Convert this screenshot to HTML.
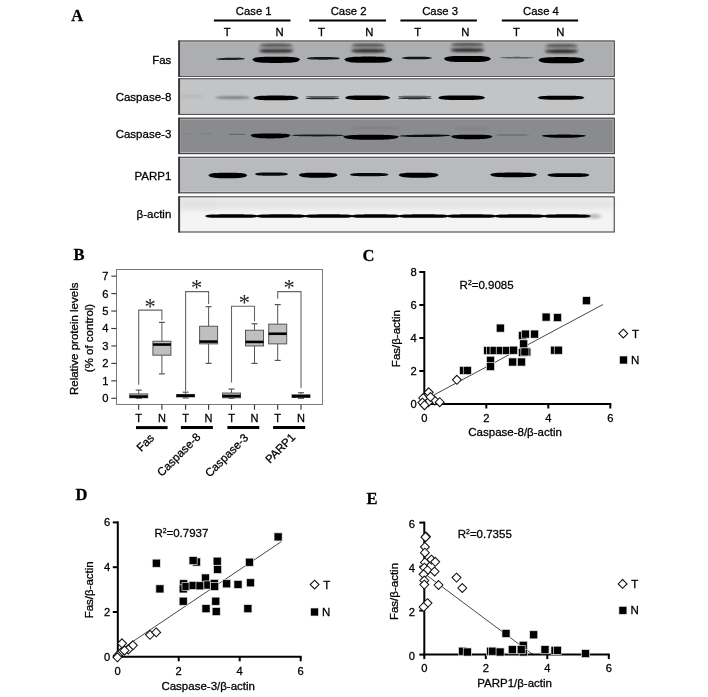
<!DOCTYPE html>
<html><head><meta charset="utf-8"><title>Figure</title>
<style>html,body{margin:0;padding:0;background:#fff;}svg{display:block;}text{stroke:#000;stroke-width:0.28px;}</style></head>
<body><svg width="708" height="697" viewBox="0 0 708 697">
<rect width="708" height="697" fill="#fff"/>
<text x="71.2" y="21.0" font-family="'Liberation Serif', 'Times New Roman', serif" font-size="16.5" text-anchor="start" font-weight="bold" fill="#000" >A</text>
<text x="73.4" y="259.8" font-family="'Liberation Serif', 'Times New Roman', serif" font-size="16.5" text-anchor="start" font-weight="bold" fill="#000" >B</text>
<text x="362.6" y="261.0" font-family="'Liberation Serif', 'Times New Roman', serif" font-size="16.5" text-anchor="start" font-weight="bold" fill="#000" >C</text>
<text x="75.4" y="500.2" font-family="'Liberation Serif', 'Times New Roman', serif" font-size="16.5" text-anchor="start" font-weight="bold" fill="#000" >D</text>
<text x="366.4" y="503.7" font-family="'Liberation Serif', 'Times New Roman', serif" font-size="16.5" text-anchor="start" font-weight="bold" fill="#000" >E</text>
<line x1="213.9" y1="20.5" x2="290.5" y2="20.5" stroke="#000" stroke-width="2"/>
<text x="253.7" y="15.4" font-family="'Liberation Sans', Arial, Helvetica, sans-serif" font-size="11.3" text-anchor="middle" font-weight="normal" fill="#000" >Case 1</text>
<line x1="309.2" y1="20.5" x2="386.0" y2="20.5" stroke="#000" stroke-width="2"/>
<text x="348.6" y="15.4" font-family="'Liberation Sans', Arial, Helvetica, sans-serif" font-size="11.3" text-anchor="middle" font-weight="normal" fill="#000" >Case 2</text>
<line x1="400.4" y1="20.5" x2="476.9" y2="20.5" stroke="#000" stroke-width="2"/>
<text x="440.1" y="15.4" font-family="'Liberation Sans', Arial, Helvetica, sans-serif" font-size="11.3" text-anchor="middle" font-weight="normal" fill="#000" >Case 3</text>
<line x1="501.8" y1="20.5" x2="578.1" y2="20.5" stroke="#000" stroke-width="2"/>
<text x="541.0" y="15.4" font-family="'Liberation Sans', Arial, Helvetica, sans-serif" font-size="11.3" text-anchor="middle" font-weight="normal" fill="#000" >Case 4</text>
<text x="227.3" y="35.7" font-family="'Liberation Sans', Arial, Helvetica, sans-serif" font-size="11.3" text-anchor="middle" font-weight="normal" fill="#000" >T</text>
<text x="279.6" y="35.7" font-family="'Liberation Sans', Arial, Helvetica, sans-serif" font-size="11.3" text-anchor="middle" font-weight="normal" fill="#000" >N</text>
<text x="321.5" y="35.7" font-family="'Liberation Sans', Arial, Helvetica, sans-serif" font-size="11.3" text-anchor="middle" font-weight="normal" fill="#000" >T</text>
<text x="369.4" y="35.7" font-family="'Liberation Sans', Arial, Helvetica, sans-serif" font-size="11.3" text-anchor="middle" font-weight="normal" fill="#000" >N</text>
<text x="417.8" y="35.7" font-family="'Liberation Sans', Arial, Helvetica, sans-serif" font-size="11.3" text-anchor="middle" font-weight="normal" fill="#000" >T</text>
<text x="465.4" y="35.7" font-family="'Liberation Sans', Arial, Helvetica, sans-serif" font-size="11.3" text-anchor="middle" font-weight="normal" fill="#000" >N</text>
<text x="516.5" y="35.7" font-family="'Liberation Sans', Arial, Helvetica, sans-serif" font-size="11.3" text-anchor="middle" font-weight="normal" fill="#000" >T</text>
<text x="560.4" y="35.7" font-family="'Liberation Sans', Arial, Helvetica, sans-serif" font-size="11.3" text-anchor="middle" font-weight="normal" fill="#000" >N</text>
<text x="171.3" y="64.0" font-family="'Liberation Sans', Arial, Helvetica, sans-serif" font-size="11.5" text-anchor="end" font-weight="normal" fill="#000" >Fas</text>
<text x="171.3" y="101.2" font-family="'Liberation Sans', Arial, Helvetica, sans-serif" font-size="11.5" text-anchor="end" font-weight="normal" fill="#000" >Caspase-8</text>
<text x="171.3" y="138.0" font-family="'Liberation Sans', Arial, Helvetica, sans-serif" font-size="11.5" text-anchor="end" font-weight="normal" fill="#000" >Caspase-3</text>
<text x="171.3" y="180.2" font-family="'Liberation Sans', Arial, Helvetica, sans-serif" font-size="11.5" text-anchor="end" font-weight="normal" fill="#000" >PARP1</text>
<text x="171.3" y="218.2" font-family="'Liberation Sans', Arial, Helvetica, sans-serif" font-size="11.5" text-anchor="end" font-weight="normal" fill="#000" >&#946;-actin</text>
<defs><filter id="b04" x="-20%" y="-200%" width="140%" height="500%"><feGaussianBlur stdDeviation="0.45"/></filter><filter id="b05" x="-20%" y="-200%" width="140%" height="500%"><feGaussianBlur stdDeviation="0.5"/></filter><filter id="b07" x="-20%" y="-200%" width="140%" height="500%"><feGaussianBlur stdDeviation="0.7"/></filter><filter id="b08" x="-20%" y="-200%" width="140%" height="500%"><feGaussianBlur stdDeviation="0.55"/></filter><filter id="b10" x="-20%" y="-200%" width="140%" height="500%"><feGaussianBlur stdDeviation="1.0"/></filter><filter id="b15" x="-20%" y="-200%" width="140%" height="500%"><feGaussianBlur stdDeviation="1.5"/></filter><filter id="b25" x="-20%" y="-200%" width="140%" height="500%"><feGaussianBlur stdDeviation="2.5"/></filter></defs>
<rect x="178.3" y="40.5" width="436.49999999999994" height="36.3" fill="#adaeb1"/>
<rect x="178.3" y="78.3" width="436.49999999999994" height="36.5" fill="#c3c4c6"/>
<rect x="178.3" y="117.7" width="436.49999999999994" height="36.39999999999999" fill="#8a8b8f"/>
<rect x="178.3" y="156.8" width="436.49999999999994" height="36.5" fill="#b9babd"/>
<rect x="178.3" y="196.3" width="436.49999999999994" height="36.19999999999999" fill="#f4f4f4"/>
<path d="M216.00,59.10 L217.22,58.58 L218.43,58.38 L219.65,58.24 L220.87,58.13 L222.08,58.04 L223.30,57.96 L224.52,57.91 L225.73,57.86 L226.95,57.82 L228.17,57.79 L229.38,57.77 L230.60,57.75 L231.82,57.73 L233.03,57.72 L234.25,57.72 L235.47,57.73 L236.68,57.74 L237.90,57.76 L239.12,57.80 L240.33,57.86 L241.55,57.94 L242.77,58.05 L243.98,58.22 L245.20,58.70 L245.20,58.70 L243.98,59.22 L242.77,59.42 L241.55,59.56 L240.33,59.67 L239.12,59.76 L237.90,59.84 L236.68,59.89 L235.47,59.94 L234.25,59.98 L233.03,60.01 L231.82,60.03 L230.60,60.05 L229.38,60.07 L228.17,60.08 L226.95,60.08 L225.73,60.07 L224.52,60.06 L223.30,60.04 L222.08,60.00 L220.87,59.94 L219.65,59.86 L218.43,59.75 L217.22,59.58 L216.00,59.10Z" fill="#151515" opacity="0.92" filter="url(#b07)"/>
<path d="M306.60,58.30 L308.00,57.69 L309.40,57.47 L310.80,57.32 L312.20,57.21 L313.60,57.13 L315.00,57.07 L316.40,57.02 L317.80,56.99 L319.20,56.97 L320.60,56.96 L322.00,56.95 L323.40,56.95 L324.80,56.95 L326.20,56.96 L327.60,56.97 L329.00,56.99 L330.40,57.02 L331.80,57.07 L333.20,57.13 L334.60,57.21 L336.00,57.32 L337.40,57.47 L338.80,57.69 L340.20,58.30 L340.20,58.30 L338.80,58.91 L337.40,59.13 L336.00,59.28 L334.60,59.39 L333.20,59.47 L331.80,59.53 L330.40,59.58 L329.00,59.61 L327.60,59.63 L326.20,59.64 L324.80,59.65 L323.40,59.65 L322.00,59.65 L320.60,59.64 L319.20,59.63 L317.80,59.61 L316.40,59.58 L315.00,59.53 L313.60,59.47 L312.20,59.39 L310.80,59.28 L309.40,59.13 L308.00,58.91 L306.60,58.30Z" fill="#111" opacity="0.95" filter="url(#b07)"/>
<path d="M401.40,58.00 L402.68,57.39 L403.97,57.17 L405.25,57.02 L406.53,56.91 L407.82,56.83 L409.10,56.77 L410.38,56.72 L411.67,56.69 L412.95,56.67 L414.23,56.66 L415.52,56.65 L416.80,56.65 L418.08,56.65 L419.37,56.66 L420.65,56.67 L421.93,56.69 L423.22,56.72 L424.50,56.77 L425.78,56.83 L427.07,56.91 L428.35,57.02 L429.63,57.17 L430.92,57.39 L432.20,58.00 L432.20,58.00 L430.92,58.61 L429.63,58.83 L428.35,58.98 L427.07,59.09 L425.78,59.17 L424.50,59.23 L423.22,59.28 L421.93,59.31 L420.65,59.33 L419.37,59.34 L418.08,59.35 L416.80,59.35 L415.52,59.35 L414.23,59.34 L412.95,59.33 L411.67,59.31 L410.38,59.28 L409.10,59.23 L407.82,59.17 L406.53,59.09 L405.25,58.98 L403.97,58.83 L402.68,58.61 L401.40,58.00Z" fill="#111" opacity="0.95" filter="url(#b07)"/>
<path d="M500.00,57.70 L501.42,57.36 L502.83,57.23 L504.25,57.14 L505.67,57.07 L507.08,57.01 L508.50,56.96 L509.92,56.93 L511.33,56.90 L512.75,56.88 L514.17,56.86 L515.58,56.85 L517.00,56.85 L518.42,56.85 L519.83,56.86 L521.25,56.88 L522.67,56.90 L524.08,56.93 L525.50,56.96 L526.92,57.01 L528.33,57.07 L529.75,57.14 L531.17,57.23 L532.58,57.36 L534.00,57.70 L534.00,57.70 L532.58,58.04 L531.17,58.17 L529.75,58.26 L528.33,58.33 L526.92,58.39 L525.50,58.44 L524.08,58.47 L522.67,58.50 L521.25,58.52 L519.83,58.54 L518.42,58.55 L517.00,58.55 L515.58,58.55 L514.17,58.54 L512.75,58.52 L511.33,58.50 L509.92,58.47 L508.50,58.44 L507.08,58.39 L505.67,58.33 L504.25,58.26 L502.83,58.17 L501.42,58.04 L500.00,57.70Z" fill="#333" opacity="0.65" filter="url(#b07)"/>
<path d="M258.20,48.10 L259.70,45.70 L261.20,44.85 L262.70,44.30 L264.20,43.91 L265.70,43.62 L267.20,43.42 L268.70,43.28 L270.20,43.19 L271.70,43.14 L273.20,43.11 L274.70,43.10 L276.20,43.10 L277.70,43.10 L279.20,43.11 L280.70,43.14 L282.20,43.19 L283.70,43.28 L285.20,43.42 L286.70,43.62 L288.20,43.91 L289.70,44.30 L291.20,44.85 L292.70,45.70 L294.20,48.10 L294.20,48.10 L292.70,50.50 L291.20,51.35 L289.70,51.90 L288.20,52.29 L286.70,52.58 L285.20,52.78 L283.70,52.92 L282.20,53.01 L280.70,53.06 L279.20,53.09 L277.70,53.10 L276.20,53.10 L274.70,53.10 L273.20,53.09 L271.70,53.06 L270.20,53.01 L268.70,52.92 L267.20,52.78 L265.70,52.58 L264.20,52.29 L262.70,51.90 L261.20,51.35 L259.70,50.50 L258.20,48.10Z" fill="#555" opacity="0.22" filter="url(#b15)"/>
<path d="M258.92,51.00 L260.36,50.23 L261.80,49.96 L263.24,49.78 L264.68,49.66 L266.12,49.57 L267.56,49.50 L269.00,49.46 L270.44,49.43 L271.88,49.41 L273.32,49.40 L274.76,49.40 L276.20,49.40 L277.64,49.40 L279.08,49.40 L280.52,49.41 L281.96,49.43 L283.40,49.46 L284.84,49.50 L286.28,49.57 L287.72,49.66 L289.16,49.78 L290.60,49.96 L292.04,50.23 L293.48,51.00 L293.48,51.00 L292.04,51.77 L290.60,52.04 L289.16,52.22 L287.72,52.34 L286.28,52.43 L284.84,52.50 L283.40,52.54 L281.96,52.57 L280.52,52.59 L279.08,52.60 L277.64,52.60 L276.20,52.60 L274.76,52.60 L273.32,52.60 L271.88,52.59 L270.44,52.57 L269.00,52.54 L267.56,52.50 L266.12,52.43 L264.68,52.34 L263.24,52.22 L261.80,52.04 L260.36,51.77 L258.92,51.00Z" fill="#111" opacity="0.85" filter="url(#b10)"/>
<path d="M259.88,45.30 L261.24,44.58 L262.60,44.33 L263.96,44.16 L265.32,44.04 L266.68,43.96 L268.04,43.90 L269.40,43.86 L270.76,43.83 L272.12,43.81 L273.48,43.80 L274.84,43.80 L276.20,43.80 L277.56,43.80 L278.92,43.80 L280.28,43.81 L281.64,43.83 L283.00,43.86 L284.36,43.90 L285.72,43.96 L287.08,44.04 L288.44,44.16 L289.80,44.33 L291.16,44.58 L292.52,45.30 L292.52,45.30 L291.16,46.02 L289.80,46.27 L288.44,46.44 L287.08,46.56 L285.72,46.64 L284.36,46.70 L283.00,46.74 L281.64,46.77 L280.28,46.79 L278.92,46.80 L277.56,46.80 L276.20,46.80 L274.84,46.80 L273.48,46.80 L272.12,46.79 L270.76,46.77 L269.40,46.74 L268.04,46.70 L266.68,46.64 L265.32,46.56 L263.96,46.44 L262.60,46.27 L261.24,46.02 L259.88,45.30Z" fill="#2a2a2a" opacity="0.62" filter="url(#b10)"/>
<path d="M252.20,59.60 L254.20,58.10 L256.20,57.59 L258.20,57.27 L260.20,57.06 L262.20,56.92 L264.20,56.82 L266.20,56.76 L268.20,56.73 L270.20,56.71 L272.20,56.70 L274.20,56.70 L276.20,56.70 L278.20,56.70 L280.20,56.70 L282.20,56.71 L284.20,56.73 L286.20,56.76 L288.20,56.82 L290.20,56.92 L292.20,57.06 L294.20,57.27 L296.20,57.59 L298.20,58.10 L300.20,59.60 L300.20,59.60 L298.20,61.31 L296.20,61.89 L294.20,62.25 L292.20,62.49 L290.20,62.65 L288.20,62.76 L286.20,62.83 L284.20,62.87 L282.20,62.89 L280.20,62.90 L278.20,62.90 L276.20,62.90 L274.20,62.90 L272.20,62.90 L270.20,62.89 L268.20,62.87 L266.20,62.83 L264.20,62.76 L262.20,62.65 L260.20,62.49 L258.20,62.25 L256.20,61.89 L254.20,61.31 L252.20,59.60Z" fill="#000" opacity="1.0" filter="url(#b05)"/>
<path d="M350.25,48.00 L351.76,45.60 L353.27,44.75 L354.79,44.20 L356.30,43.81 L357.81,43.52 L359.32,43.32 L360.84,43.18 L362.35,43.09 L363.86,43.04 L365.38,43.01 L366.89,43.00 L368.40,43.00 L369.91,43.00 L371.42,43.01 L372.94,43.04 L374.45,43.09 L375.96,43.18 L377.47,43.32 L378.99,43.52 L380.50,43.81 L382.01,44.20 L383.52,44.75 L385.04,45.60 L386.55,48.00 L386.55,48.00 L385.04,50.40 L383.52,51.25 L382.01,51.80 L380.50,52.19 L378.99,52.48 L377.47,52.68 L375.96,52.82 L374.45,52.91 L372.94,52.96 L371.42,52.99 L369.91,53.00 L368.40,53.00 L366.89,53.00 L365.38,52.99 L363.86,52.96 L362.35,52.91 L360.84,52.82 L359.32,52.68 L357.81,52.48 L356.30,52.19 L354.79,51.80 L353.27,51.25 L351.76,50.40 L350.25,48.00Z" fill="#555" opacity="0.22" filter="url(#b15)"/>
<path d="M350.98,50.90 L352.43,50.13 L353.88,49.86 L355.33,49.68 L356.78,49.56 L358.24,49.47 L359.69,49.40 L361.14,49.36 L362.59,49.33 L364.04,49.31 L365.50,49.30 L366.95,49.30 L368.40,49.30 L369.85,49.30 L371.30,49.30 L372.76,49.31 L374.21,49.33 L375.66,49.36 L377.11,49.40 L378.56,49.47 L380.02,49.56 L381.47,49.68 L382.92,49.86 L384.37,50.13 L385.82,50.90 L385.82,50.90 L384.37,51.67 L382.92,51.94 L381.47,52.12 L380.02,52.24 L378.56,52.33 L377.11,52.40 L375.66,52.44 L374.21,52.47 L372.76,52.49 L371.30,52.50 L369.85,52.50 L368.40,52.50 L366.95,52.50 L365.50,52.50 L364.04,52.49 L362.59,52.47 L361.14,52.44 L359.69,52.40 L358.24,52.33 L356.78,52.24 L355.33,52.12 L353.88,51.94 L352.43,51.67 L350.98,50.90Z" fill="#111" opacity="0.85" filter="url(#b10)"/>
<path d="M351.94,45.20 L353.32,44.48 L354.69,44.23 L356.06,44.06 L357.43,43.94 L358.80,43.86 L360.17,43.80 L361.54,43.76 L362.91,43.73 L364.29,43.71 L365.66,43.70 L367.03,43.70 L368.40,43.70 L369.77,43.70 L371.14,43.70 L372.51,43.71 L373.89,43.73 L375.26,43.76 L376.63,43.80 L378.00,43.86 L379.37,43.94 L380.74,44.06 L382.11,44.23 L383.48,44.48 L384.86,45.20 L384.86,45.20 L383.48,45.92 L382.11,46.17 L380.74,46.34 L379.37,46.46 L378.00,46.54 L376.63,46.60 L375.26,46.64 L373.89,46.67 L372.51,46.69 L371.14,46.70 L369.77,46.70 L368.40,46.70 L367.03,46.70 L365.66,46.70 L364.29,46.69 L362.91,46.67 L361.54,46.64 L360.17,46.60 L358.80,46.54 L357.43,46.46 L356.06,46.34 L354.69,46.17 L353.32,45.92 L351.94,45.20Z" fill="#2a2a2a" opacity="0.62" filter="url(#b10)"/>
<path d="M344.20,59.50 L346.22,58.00 L348.23,57.49 L350.25,57.17 L352.27,56.96 L354.28,56.82 L356.30,56.72 L358.32,56.66 L360.33,56.63 L362.35,56.61 L364.37,56.60 L366.38,56.60 L368.40,56.60 L370.42,56.60 L372.43,56.60 L374.45,56.61 L376.47,56.63 L378.48,56.66 L380.50,56.72 L382.52,56.82 L384.53,56.96 L386.55,57.17 L388.57,57.49 L390.58,58.00 L392.60,59.50 L392.60,59.50 L390.58,61.21 L388.57,61.79 L386.55,62.15 L384.53,62.39 L382.52,62.55 L380.50,62.66 L378.48,62.73 L376.47,62.77 L374.45,62.79 L372.43,62.80 L370.42,62.80 L368.40,62.80 L366.38,62.80 L364.37,62.80 L362.35,62.79 L360.33,62.77 L358.32,62.73 L356.30,62.66 L354.28,62.55 L352.27,62.39 L350.25,62.15 L348.23,61.79 L346.22,61.21 L344.20,59.50Z" fill="#000" opacity="1.0" filter="url(#b05)"/>
<path d="M449.70,47.30 L451.17,44.90 L452.65,44.05 L454.12,43.50 L455.60,43.11 L457.07,42.82 L458.55,42.62 L460.02,42.48 L461.50,42.39 L462.97,42.34 L464.45,42.31 L465.92,42.30 L467.40,42.30 L468.88,42.30 L470.35,42.31 L471.82,42.34 L473.30,42.39 L474.77,42.48 L476.25,42.62 L477.72,42.82 L479.20,43.11 L480.67,43.50 L482.15,44.05 L483.62,44.90 L485.10,47.30 L485.10,47.30 L483.62,49.70 L482.15,50.55 L480.67,51.10 L479.20,51.49 L477.72,51.78 L476.25,51.98 L474.77,52.12 L473.30,52.21 L471.82,52.26 L470.35,52.29 L468.88,52.30 L467.40,52.30 L465.92,52.30 L464.45,52.29 L462.97,52.26 L461.50,52.21 L460.02,52.12 L458.55,51.98 L457.07,51.78 L455.60,51.49 L454.12,51.10 L452.65,50.55 L451.17,49.70 L449.70,47.30Z" fill="#555" opacity="0.22" filter="url(#b15)"/>
<path d="M450.41,50.20 L451.82,49.43 L453.24,49.16 L454.66,48.98 L456.07,48.86 L457.49,48.77 L458.90,48.70 L460.32,48.66 L461.74,48.63 L463.15,48.61 L464.57,48.60 L465.98,48.60 L467.40,48.60 L468.82,48.60 L470.23,48.60 L471.65,48.61 L473.06,48.63 L474.48,48.66 L475.90,48.70 L477.31,48.77 L478.73,48.86 L480.14,48.98 L481.56,49.16 L482.98,49.43 L484.39,50.20 L484.39,50.20 L482.98,50.97 L481.56,51.24 L480.14,51.42 L478.73,51.54 L477.31,51.63 L475.90,51.70 L474.48,51.74 L473.06,51.77 L471.65,51.79 L470.23,51.80 L468.82,51.80 L467.40,51.80 L465.98,51.80 L464.57,51.80 L463.15,51.79 L461.74,51.77 L460.32,51.74 L458.90,51.70 L457.49,51.63 L456.07,51.54 L454.66,51.42 L453.24,51.24 L451.82,50.97 L450.41,50.20Z" fill="#111" opacity="0.85" filter="url(#b10)"/>
<path d="M451.35,44.50 L452.69,43.78 L454.03,43.53 L455.36,43.36 L456.70,43.24 L458.04,43.16 L459.38,43.10 L460.71,43.06 L462.05,43.03 L463.39,43.01 L464.73,43.00 L466.06,43.00 L467.40,43.00 L468.74,43.00 L470.07,43.00 L471.41,43.01 L472.75,43.03 L474.09,43.06 L475.42,43.10 L476.76,43.16 L478.10,43.24 L479.44,43.36 L480.77,43.53 L482.11,43.78 L483.45,44.50 L483.45,44.50 L482.11,45.22 L480.77,45.47 L479.44,45.64 L478.10,45.76 L476.76,45.84 L475.42,45.90 L474.09,45.94 L472.75,45.97 L471.41,45.99 L470.07,46.00 L468.74,46.00 L467.40,46.00 L466.06,46.00 L464.73,46.00 L463.39,45.99 L462.05,45.97 L460.71,45.94 L459.38,45.90 L458.04,45.84 L456.70,45.76 L455.36,45.64 L454.03,45.47 L452.69,45.22 L451.35,44.50Z" fill="#2a2a2a" opacity="0.62" filter="url(#b10)"/>
<path d="M443.80,58.80 L445.77,57.30 L447.73,56.79 L449.70,56.47 L451.67,56.26 L453.63,56.12 L455.60,56.02 L457.57,55.96 L459.53,55.93 L461.50,55.91 L463.47,55.90 L465.43,55.90 L467.40,55.90 L469.37,55.90 L471.33,55.90 L473.30,55.91 L475.27,55.93 L477.23,55.96 L479.20,56.02 L481.17,56.12 L483.13,56.26 L485.10,56.47 L487.07,56.79 L489.03,57.30 L491.00,58.80 L491.00,58.80 L489.03,60.51 L487.07,61.09 L485.10,61.45 L483.13,61.69 L481.17,61.85 L479.20,61.96 L477.23,62.03 L475.27,62.07 L473.30,62.09 L471.33,62.10 L469.37,62.10 L467.40,62.10 L465.43,62.10 L463.47,62.10 L461.50,62.09 L459.53,62.07 L457.57,62.03 L455.60,61.96 L453.63,61.85 L451.67,61.69 L449.70,61.45 L447.73,61.09 L445.77,60.51 L443.80,58.80Z" fill="#000" opacity="1.0" filter="url(#b05)"/>
<path d="M544.10,48.50 L545.55,46.10 L547.00,45.25 L548.45,44.70 L549.90,44.31 L551.35,44.02 L552.80,43.82 L554.25,43.68 L555.70,43.59 L557.15,43.54 L558.60,43.51 L560.05,43.50 L561.50,43.50 L562.95,43.50 L564.40,43.51 L565.85,43.54 L567.30,43.59 L568.75,43.68 L570.20,43.82 L571.65,44.02 L573.10,44.31 L574.55,44.70 L576.00,45.25 L577.45,46.10 L578.90,48.50 L578.90,48.50 L577.45,50.90 L576.00,51.75 L574.55,52.30 L573.10,52.69 L571.65,52.98 L570.20,53.18 L568.75,53.32 L567.30,53.41 L565.85,53.46 L564.40,53.49 L562.95,53.50 L561.50,53.50 L560.05,53.50 L558.60,53.49 L557.15,53.46 L555.70,53.41 L554.25,53.32 L552.80,53.18 L551.35,52.98 L549.90,52.69 L548.45,52.30 L547.00,51.75 L545.55,50.90 L544.10,48.50Z" fill="#555" opacity="0.22" filter="url(#b15)"/>
<path d="M544.80,51.40 L546.19,50.63 L547.58,50.36 L548.97,50.18 L550.36,50.06 L551.76,49.97 L553.15,49.90 L554.54,49.86 L555.93,49.83 L557.32,49.81 L558.72,49.80 L560.11,49.80 L561.50,49.80 L562.89,49.80 L564.28,49.80 L565.68,49.81 L567.07,49.83 L568.46,49.86 L569.85,49.90 L571.24,49.97 L572.64,50.06 L574.03,50.18 L575.42,50.36 L576.81,50.63 L578.20,51.40 L578.20,51.40 L576.81,52.17 L575.42,52.44 L574.03,52.62 L572.64,52.74 L571.24,52.83 L569.85,52.90 L568.46,52.94 L567.07,52.97 L565.68,52.99 L564.28,53.00 L562.89,53.00 L561.50,53.00 L560.11,53.00 L558.72,53.00 L557.32,52.99 L555.93,52.97 L554.54,52.94 L553.15,52.90 L551.76,52.83 L550.36,52.74 L548.97,52.62 L547.58,52.44 L546.19,52.17 L544.80,51.40Z" fill="#111" opacity="0.85" filter="url(#b10)"/>
<path d="M545.72,45.70 L547.04,44.98 L548.35,44.73 L549.67,44.56 L550.98,44.44 L552.30,44.36 L553.61,44.30 L554.93,44.26 L556.24,44.23 L557.56,44.21 L558.87,44.20 L560.19,44.20 L561.50,44.20 L562.81,44.20 L564.13,44.20 L565.44,44.21 L566.76,44.23 L568.07,44.26 L569.39,44.30 L570.70,44.36 L572.02,44.44 L573.33,44.56 L574.65,44.73 L575.96,44.98 L577.28,45.70 L577.28,45.70 L575.96,46.42 L574.65,46.67 L573.33,46.84 L572.02,46.96 L570.70,47.04 L569.39,47.10 L568.07,47.14 L566.76,47.17 L565.44,47.19 L564.13,47.20 L562.81,47.20 L561.50,47.20 L560.19,47.20 L558.87,47.20 L557.56,47.19 L556.24,47.17 L554.93,47.14 L553.61,47.10 L552.30,47.04 L550.98,46.96 L549.67,46.84 L548.35,46.67 L547.04,46.42 L545.72,45.70Z" fill="#2a2a2a" opacity="0.62" filter="url(#b10)"/>
<path d="M538.30,60.00 L540.23,58.50 L542.17,57.99 L544.10,57.67 L546.03,57.46 L547.97,57.32 L549.90,57.22 L551.83,57.16 L553.77,57.13 L555.70,57.11 L557.63,57.10 L559.57,57.10 L561.50,57.10 L563.43,57.10 L565.37,57.10 L567.30,57.11 L569.23,57.13 L571.17,57.16 L573.10,57.22 L575.03,57.32 L576.97,57.46 L578.90,57.67 L580.83,57.99 L582.77,58.50 L584.70,60.00 L584.70,60.00 L582.77,61.71 L580.83,62.29 L578.90,62.65 L576.97,62.89 L575.03,63.05 L573.10,63.16 L571.17,63.23 L569.23,63.27 L567.30,63.29 L565.37,63.30 L563.43,63.30 L561.50,63.30 L559.57,63.30 L557.63,63.30 L555.70,63.29 L553.77,63.27 L551.83,63.23 L549.90,63.16 L547.97,63.05 L546.03,62.89 L544.10,62.65 L542.17,62.29 L540.23,61.71 L538.30,60.00Z" fill="#000" opacity="1.0" filter="url(#b05)"/>
<path d="M215.50,97.60 L216.96,97.11 L218.42,96.93 L219.88,96.81 L221.33,96.72 L222.79,96.65 L224.25,96.60 L225.71,96.56 L227.17,96.54 L228.62,96.52 L230.08,96.51 L231.54,96.50 L233.00,96.50 L234.46,96.50 L235.92,96.51 L237.38,96.52 L238.83,96.54 L240.29,96.56 L241.75,96.60 L243.21,96.65 L244.67,96.72 L246.12,96.81 L247.58,96.93 L249.04,97.11 L250.50,97.60 L250.50,97.60 L249.04,98.09 L247.58,98.27 L246.12,98.39 L244.67,98.48 L243.21,98.55 L241.75,98.60 L240.29,98.64 L238.83,98.66 L237.38,98.68 L235.92,98.69 L234.46,98.70 L233.00,98.70 L231.54,98.70 L230.08,98.69 L228.62,98.68 L227.17,98.66 L225.71,98.64 L224.25,98.60 L222.79,98.55 L221.33,98.48 L219.88,98.39 L218.42,98.27 L216.96,98.09 L215.50,97.60Z" fill="#333" opacity="0.6" filter="url(#b10)"/>
<path d="M180.00,96.40 L181.00,95.97 L182.00,95.82 L183.00,95.74 L184.00,95.68 L185.00,95.65 L186.00,95.63 L187.00,95.61 L188.00,95.60 L189.00,95.60 L190.00,95.60 L191.00,95.60 L192.00,95.60 L193.00,95.60 L194.00,95.60 L195.00,95.60 L196.00,95.60 L197.00,95.61 L198.00,95.63 L199.00,95.65 L200.00,95.68 L201.00,95.74 L202.00,95.82 L203.00,95.97 L204.00,96.40 L204.00,96.40 L203.00,96.83 L202.00,96.98 L201.00,97.06 L200.00,97.12 L199.00,97.15 L198.00,97.17 L197.00,97.19 L196.00,97.20 L195.00,97.20 L194.00,97.20 L193.00,97.20 L192.00,97.20 L191.00,97.20 L190.00,97.20 L189.00,97.20 L188.00,97.20 L187.00,97.19 L186.00,97.17 L185.00,97.15 L184.00,97.12 L183.00,97.06 L182.00,96.98 L181.00,96.83 L180.00,96.40Z" fill="#777" opacity="0.25" filter="url(#b10)"/>
<path d="M253.20,97.90 L255.10,96.65 L257.00,96.25 L258.90,96.00 L260.80,95.84 L262.70,95.74 L264.60,95.67 L266.50,95.63 L268.40,95.61 L270.30,95.60 L272.20,95.60 L274.10,95.60 L276.00,95.60 L277.90,95.60 L279.80,95.60 L281.70,95.60 L283.60,95.61 L285.50,95.63 L287.40,95.67 L289.30,95.74 L291.20,95.84 L293.10,96.00 L295.00,96.25 L296.90,96.65 L298.80,97.90 L298.80,97.90 L296.90,99.15 L295.00,99.55 L293.10,99.80 L291.20,99.96 L289.30,100.06 L287.40,100.13 L285.50,100.17 L283.60,100.19 L281.70,100.20 L279.80,100.20 L277.90,100.20 L276.00,100.20 L274.10,100.20 L272.20,100.20 L270.30,100.20 L268.40,100.19 L266.50,100.17 L264.60,100.13 L262.70,100.06 L260.80,99.96 L258.90,99.80 L257.00,99.55 L255.10,99.15 L253.20,97.90Z" fill="#000" opacity="1.0" filter="url(#b04)"/>
<path d="M305.00,96.70 L306.46,96.32 L307.92,96.18 L309.38,96.09 L310.83,96.03 L312.29,95.98 L313.75,95.95 L315.21,95.93 L316.67,95.91 L318.12,95.91 L319.58,95.90 L321.04,95.90 L322.50,95.90 L323.96,95.90 L325.42,95.90 L326.88,95.91 L328.33,95.91 L329.79,95.93 L331.25,95.95 L332.71,95.98 L334.17,96.03 L335.62,96.09 L337.08,96.18 L338.54,96.32 L340.00,96.70 L340.00,96.70 L338.54,97.08 L337.08,97.22 L335.62,97.31 L334.17,97.37 L332.71,97.42 L331.25,97.45 L329.79,97.47 L328.33,97.49 L326.88,97.49 L325.42,97.50 L323.96,97.50 L322.50,97.50 L321.04,97.50 L319.58,97.50 L318.12,97.49 L316.67,97.49 L315.21,97.47 L313.75,97.45 L312.29,97.42 L310.83,97.37 L309.38,97.31 L307.92,97.22 L306.46,97.08 L305.00,96.70Z" fill="#333" opacity="0.65" filter="url(#b07)"/>
<path d="M305.00,98.40 L306.46,97.94 L307.92,97.78 L309.38,97.68 L310.83,97.60 L312.29,97.55 L313.75,97.51 L315.21,97.49 L316.67,97.47 L318.12,97.46 L319.58,97.45 L321.04,97.45 L322.50,97.45 L323.96,97.45 L325.42,97.45 L326.88,97.46 L328.33,97.47 L329.79,97.49 L331.25,97.51 L332.71,97.55 L334.17,97.60 L335.62,97.68 L337.08,97.78 L338.54,97.94 L340.00,98.40 L340.00,98.40 L338.54,98.86 L337.08,99.02 L335.62,99.12 L334.17,99.20 L332.71,99.25 L331.25,99.29 L329.79,99.31 L328.33,99.33 L326.88,99.34 L325.42,99.35 L323.96,99.35 L322.50,99.35 L321.04,99.35 L319.58,99.35 L318.12,99.34 L316.67,99.33 L315.21,99.31 L313.75,99.29 L312.29,99.25 L310.83,99.20 L309.38,99.12 L307.92,99.02 L306.46,98.86 L305.00,98.40Z" fill="#111" opacity="0.85" filter="url(#b07)"/>
<path d="M344.90,97.70 L346.79,96.45 L348.68,96.05 L350.58,95.80 L352.47,95.64 L354.36,95.54 L356.25,95.47 L358.14,95.43 L360.03,95.41 L361.93,95.40 L363.82,95.40 L365.71,95.40 L367.60,95.40 L369.49,95.40 L371.38,95.40 L373.28,95.40 L375.17,95.41 L377.06,95.43 L378.95,95.47 L380.84,95.54 L382.73,95.64 L384.62,95.80 L386.52,96.05 L388.41,96.45 L390.30,97.70 L390.30,97.70 L388.41,98.95 L386.52,99.35 L384.62,99.60 L382.73,99.76 L380.84,99.86 L378.95,99.93 L377.06,99.97 L375.17,99.99 L373.28,100.00 L371.38,100.00 L369.49,100.00 L367.60,100.00 L365.71,100.00 L363.82,100.00 L361.93,100.00 L360.03,99.99 L358.14,99.97 L356.25,99.93 L354.36,99.86 L352.47,99.76 L350.58,99.60 L348.68,99.35 L346.79,98.95 L344.90,97.70Z" fill="#000" opacity="1.0" filter="url(#b04)"/>
<path d="M397.80,96.50 L399.22,96.12 L400.63,95.98 L402.05,95.89 L403.47,95.83 L404.88,95.78 L406.30,95.75 L407.72,95.73 L409.13,95.71 L410.55,95.71 L411.97,95.70 L413.38,95.70 L414.80,95.70 L416.22,95.70 L417.63,95.70 L419.05,95.71 L420.47,95.71 L421.88,95.73 L423.30,95.75 L424.72,95.78 L426.13,95.83 L427.55,95.89 L428.97,95.98 L430.38,96.12 L431.80,96.50 L431.80,96.50 L430.38,96.88 L428.97,97.02 L427.55,97.11 L426.13,97.17 L424.72,97.22 L423.30,97.25 L421.88,97.27 L420.47,97.29 L419.05,97.29 L417.63,97.30 L416.22,97.30 L414.80,97.30 L413.38,97.30 L411.97,97.30 L410.55,97.29 L409.13,97.29 L407.72,97.27 L406.30,97.25 L404.88,97.22 L403.47,97.17 L402.05,97.11 L400.63,97.02 L399.22,96.88 L397.80,96.50Z" fill="#333" opacity="0.65" filter="url(#b07)"/>
<path d="M397.80,98.20 L399.22,97.74 L400.63,97.58 L402.05,97.48 L403.47,97.40 L404.88,97.35 L406.30,97.31 L407.72,97.29 L409.13,97.27 L410.55,97.26 L411.97,97.25 L413.38,97.25 L414.80,97.25 L416.22,97.25 L417.63,97.25 L419.05,97.26 L420.47,97.27 L421.88,97.29 L423.30,97.31 L424.72,97.35 L426.13,97.40 L427.55,97.48 L428.97,97.58 L430.38,97.74 L431.80,98.20 L431.80,98.20 L430.38,98.66 L428.97,98.82 L427.55,98.92 L426.13,99.00 L424.72,99.05 L423.30,99.09 L421.88,99.11 L420.47,99.13 L419.05,99.14 L417.63,99.15 L416.22,99.15 L414.80,99.15 L413.38,99.15 L411.97,99.15 L410.55,99.14 L409.13,99.13 L407.72,99.11 L406.30,99.09 L404.88,99.05 L403.47,99.00 L402.05,98.92 L400.63,98.82 L399.22,98.66 L397.80,98.20Z" fill="#111" opacity="0.85" filter="url(#b07)"/>
<path d="M438.00,97.70 L439.97,96.45 L441.93,96.05 L443.90,95.80 L445.87,95.64 L447.83,95.54 L449.80,95.47 L451.77,95.43 L453.73,95.41 L455.70,95.40 L457.67,95.40 L459.63,95.40 L461.60,95.40 L463.57,95.40 L465.53,95.40 L467.50,95.40 L469.47,95.41 L471.43,95.43 L473.40,95.47 L475.37,95.54 L477.33,95.64 L479.30,95.80 L481.27,96.05 L483.23,96.45 L485.20,97.70 L485.20,97.70 L483.23,98.95 L481.27,99.35 L479.30,99.60 L477.33,99.76 L475.37,99.86 L473.40,99.93 L471.43,99.97 L469.47,99.99 L467.50,100.00 L465.53,100.00 L463.57,100.00 L461.60,100.00 L459.63,100.00 L457.67,100.00 L455.70,100.00 L453.73,99.99 L451.77,99.97 L449.80,99.93 L447.83,99.86 L445.87,99.76 L443.90,99.60 L441.93,99.35 L439.97,98.95 L438.00,97.70Z" fill="#000" opacity="1.0" filter="url(#b04)"/>
<path d="M537.50,97.70 L539.46,96.62 L541.42,96.26 L543.38,96.05 L545.33,95.91 L547.29,95.82 L549.25,95.76 L551.21,95.73 L553.17,95.71 L555.12,95.70 L557.08,95.70 L559.04,95.70 L561.00,95.70 L562.96,95.70 L564.92,95.70 L566.88,95.70 L568.83,95.71 L570.79,95.73 L572.75,95.76 L574.71,95.82 L576.67,95.91 L578.62,96.05 L580.58,96.26 L582.54,96.62 L584.50,97.70 L584.50,97.70 L582.54,98.78 L580.58,99.14 L578.62,99.35 L576.67,99.49 L574.71,99.58 L572.75,99.64 L570.79,99.67 L568.83,99.69 L566.88,99.70 L564.92,99.70 L562.96,99.70 L561.00,99.70 L559.04,99.70 L557.08,99.70 L555.12,99.70 L553.17,99.69 L551.21,99.67 L549.25,99.64 L547.29,99.58 L545.33,99.49 L543.38,99.35 L541.42,99.14 L539.46,98.78 L537.50,97.70Z" fill="#000" opacity="1.0" filter="url(#b04)"/>
<path d="M181.00,133.60 L181.42,133.33 L181.83,133.24 L182.25,133.19 L182.67,133.15 L183.08,133.13 L183.50,133.12 L183.92,133.11 L184.33,133.10 L184.75,133.10 L185.17,133.10 L185.58,133.10 L186.00,133.10 L186.42,133.10 L186.83,133.10 L187.25,133.10 L187.67,133.10 L188.08,133.11 L188.50,133.12 L188.92,133.13 L189.33,133.15 L189.75,133.19 L190.17,133.24 L190.58,133.33 L191.00,133.60 L191.00,133.60 L190.58,133.87 L190.17,133.96 L189.75,134.01 L189.33,134.05 L188.92,134.07 L188.50,134.08 L188.08,134.09 L187.67,134.10 L187.25,134.10 L186.83,134.10 L186.42,134.10 L186.00,134.10 L185.58,134.10 L185.17,134.10 L184.75,134.10 L184.33,134.10 L183.92,134.09 L183.50,134.08 L183.08,134.07 L182.67,134.05 L182.25,134.01 L181.83,133.96 L181.42,133.87 L181.00,133.60Z" fill="#444" opacity="0.15" filter="url(#b07)"/>
<path d="M200.00,133.80 L200.50,133.53 L201.00,133.44 L201.50,133.39 L202.00,133.35 L202.50,133.33 L203.00,133.32 L203.50,133.31 L204.00,133.30 L204.50,133.30 L205.00,133.30 L205.50,133.30 L206.00,133.30 L206.50,133.30 L207.00,133.30 L207.50,133.30 L208.00,133.30 L208.50,133.31 L209.00,133.32 L209.50,133.33 L210.00,133.35 L210.50,133.39 L211.00,133.44 L211.50,133.53 L212.00,133.80 L212.00,133.80 L211.50,134.07 L211.00,134.16 L210.50,134.21 L210.00,134.25 L209.50,134.27 L209.00,134.28 L208.50,134.29 L208.00,134.30 L207.50,134.30 L207.00,134.30 L206.50,134.30 L206.00,134.30 L205.50,134.30 L205.00,134.30 L204.50,134.30 L204.00,134.30 L203.50,134.29 L203.00,134.28 L202.50,134.27 L202.00,134.25 L201.50,134.21 L201.00,134.16 L200.50,134.07 L200.00,133.80Z" fill="#444" opacity="0.2" filter="url(#b07)"/>
<path d="M228.00,134.40 L228.75,134.07 L229.50,133.97 L230.25,133.90 L231.00,133.86 L231.75,133.84 L232.50,133.82 L233.25,133.81 L234.00,133.80 L234.75,133.80 L235.50,133.80 L236.25,133.80 L237.00,133.80 L237.75,133.80 L238.50,133.80 L239.25,133.80 L240.00,133.80 L240.75,133.81 L241.50,133.82 L242.25,133.84 L243.00,133.86 L243.75,133.90 L244.50,133.97 L245.25,134.07 L246.00,134.40 L246.00,134.40 L245.25,134.73 L244.50,134.83 L243.75,134.90 L243.00,134.94 L242.25,134.96 L241.50,134.98 L240.75,134.99 L240.00,135.00 L239.25,135.00 L238.50,135.00 L237.75,135.00 L237.00,135.00 L236.25,135.00 L235.50,135.00 L234.75,135.00 L234.00,135.00 L233.25,134.99 L232.50,134.98 L231.75,134.96 L231.00,134.94 L230.25,134.90 L229.50,134.83 L228.75,134.73 L228.00,134.40Z" fill="#333" opacity="0.4" filter="url(#b07)"/>
<path d="M291.00,135.40 L293.25,135.00 L295.50,134.85 L297.75,134.74 L300.00,134.65 L302.25,134.59 L304.50,134.53 L306.75,134.49 L309.00,134.46 L311.25,134.43 L313.50,134.41 L315.75,134.40 L318.00,134.40 L320.25,134.40 L322.50,134.41 L324.75,134.43 L327.00,134.46 L329.25,134.49 L331.50,134.53 L333.75,134.59 L336.00,134.65 L338.25,134.74 L340.50,134.85 L342.75,135.00 L345.00,135.40 L345.00,135.40 L342.75,135.80 L340.50,135.95 L338.25,136.06 L336.00,136.15 L333.75,136.21 L331.50,136.27 L329.25,136.31 L327.00,136.34 L324.75,136.37 L322.50,136.39 L320.25,136.40 L318.00,136.40 L315.75,136.40 L313.50,136.39 L311.25,136.37 L309.00,136.34 L306.75,136.31 L304.50,136.27 L302.25,136.21 L300.00,136.15 L297.75,136.06 L295.50,135.95 L293.25,135.80 L291.00,135.40Z" fill="#111" opacity="0.9" filter="url(#b07)"/>
<path d="M250.50,135.00 L252.17,134.28 L253.83,134.03 L255.50,133.86 L257.17,133.74 L258.83,133.66 L260.50,133.60 L262.17,133.56 L263.83,133.53 L265.50,133.51 L267.17,133.50 L268.83,133.50 L270.50,133.50 L272.17,133.50 L273.83,133.50 L275.50,133.51 L277.17,133.53 L278.83,133.56 L280.50,133.60 L282.17,133.66 L283.83,133.74 L285.50,133.86 L287.17,134.03 L288.83,134.28 L290.50,135.00 L290.50,135.00 L288.83,136.63 L287.17,137.21 L285.50,137.59 L283.83,137.85 L282.17,138.04 L280.50,138.18 L278.83,138.27 L277.17,138.34 L275.50,138.37 L273.83,138.39 L272.17,138.40 L270.50,138.40 L268.83,138.40 L267.17,138.39 L265.50,138.37 L263.83,138.34 L262.17,138.27 L260.50,138.18 L258.83,138.04 L257.17,137.85 L255.50,137.59 L253.83,137.21 L252.17,136.63 L250.50,135.00Z" fill="#000" opacity="1.0" filter="url(#b04)"/>
<path d="M399.00,135.90 L401.17,135.48 L403.33,135.30 L405.50,135.16 L407.67,135.05 L409.83,134.96 L412.00,134.88 L414.17,134.82 L416.33,134.76 L418.50,134.71 L420.67,134.66 L422.83,134.63 L425.00,134.60 L427.17,134.58 L429.33,134.56 L431.50,134.56 L433.67,134.56 L435.83,134.57 L438.00,134.58 L440.17,134.61 L442.33,134.65 L444.50,134.71 L446.67,134.80 L448.83,134.93 L451.00,135.30 L451.00,135.30 L448.83,135.88 L446.67,136.12 L444.50,136.30 L442.33,136.44 L440.17,136.56 L438.00,136.66 L435.83,136.75 L433.67,136.82 L431.50,136.88 L429.33,136.93 L427.17,136.97 L425.00,137.00 L422.83,137.02 L420.67,137.03 L418.50,137.03 L416.33,137.02 L414.17,137.00 L412.00,136.96 L409.83,136.91 L407.67,136.84 L405.50,136.75 L403.33,136.62 L401.17,136.43 L399.00,135.90Z" fill="#000" opacity="0.9" filter="url(#b07)"/>
<path d="M343.00,136.60 L345.33,135.74 L347.67,135.43 L350.00,135.23 L352.33,135.09 L354.67,134.99 L357.00,134.92 L359.33,134.87 L361.67,134.83 L364.00,134.81 L366.33,134.80 L368.67,134.80 L371.00,134.80 L373.33,134.80 L375.67,134.80 L378.00,134.81 L380.33,134.83 L382.67,134.87 L385.00,134.92 L387.33,134.99 L389.67,135.09 L392.00,135.23 L394.33,135.43 L396.67,135.74 L399.00,136.60 L399.00,136.60 L396.67,138.13 L394.33,138.68 L392.00,139.03 L389.67,139.28 L387.33,139.46 L385.00,139.59 L382.67,139.68 L380.33,139.74 L378.00,139.77 L375.67,139.79 L373.33,139.80 L371.00,139.80 L368.67,139.80 L366.33,139.79 L364.00,139.77 L361.67,139.74 L359.33,139.68 L357.00,139.59 L354.67,139.46 L352.33,139.28 L350.00,139.03 L347.67,138.68 L345.33,138.13 L343.00,136.60Z" fill="#000" opacity="1.0" filter="url(#b04)"/>
<path d="M451.00,136.20 L452.73,135.48 L454.47,135.23 L456.20,135.06 L457.93,134.94 L459.67,134.86 L461.40,134.80 L463.13,134.76 L464.87,134.73 L466.60,134.71 L468.33,134.70 L470.07,134.70 L471.80,134.70 L473.53,134.70 L475.27,134.70 L477.00,134.71 L478.73,134.73 L480.47,134.76 L482.20,134.80 L483.93,134.86 L485.67,134.94 L487.40,135.06 L489.13,135.23 L490.87,135.48 L492.60,136.20 L492.60,136.20 L490.87,137.64 L489.13,138.15 L487.40,138.48 L485.67,138.72 L483.93,138.89 L482.20,139.01 L480.47,139.09 L478.73,139.14 L477.00,139.18 L475.27,139.19 L473.53,139.20 L471.80,139.20 L470.07,139.20 L468.33,139.19 L466.60,139.18 L464.87,139.14 L463.13,139.09 L461.40,139.01 L459.67,138.89 L457.93,138.72 L456.20,138.48 L454.47,138.15 L452.73,137.64 L451.00,136.20Z" fill="#000" opacity="1.0" filter="url(#b04)"/>
<path d="M494.00,135.00 L495.50,134.73 L497.00,134.64 L498.50,134.59 L500.00,134.55 L501.50,134.53 L503.00,134.52 L504.50,134.51 L506.00,134.50 L507.50,134.50 L509.00,134.50 L510.50,134.50 L512.00,134.50 L513.50,134.50 L515.00,134.50 L516.50,134.50 L518.00,134.50 L519.50,134.51 L521.00,134.52 L522.50,134.53 L524.00,134.55 L525.50,134.59 L527.00,134.64 L528.50,134.73 L530.00,135.00 L530.00,135.00 L528.50,135.27 L527.00,135.36 L525.50,135.41 L524.00,135.45 L522.50,135.47 L521.00,135.48 L519.50,135.49 L518.00,135.50 L516.50,135.50 L515.00,135.50 L513.50,135.50 L512.00,135.50 L510.50,135.50 L509.00,135.50 L507.50,135.50 L506.00,135.50 L504.50,135.49 L503.00,135.48 L501.50,135.47 L500.00,135.45 L498.50,135.41 L497.00,135.36 L495.50,135.27 L494.00,135.00Z" fill="#333" opacity="0.45" filter="url(#b07)"/>
<path d="M541.40,135.60 L543.27,135.18 L545.13,135.03 L547.00,134.92 L548.87,134.83 L550.73,134.77 L552.60,134.72 L554.47,134.68 L556.33,134.65 L558.20,134.62 L560.07,134.61 L561.93,134.60 L563.80,134.60 L565.67,134.60 L567.53,134.61 L569.40,134.62 L571.27,134.65 L573.13,134.68 L575.00,134.72 L576.87,134.77 L578.73,134.83 L580.60,134.92 L582.47,135.03 L584.33,135.18 L586.20,135.60 L586.20,135.60 L584.33,136.52 L582.47,136.86 L580.60,137.11 L578.73,137.29 L576.87,137.43 L575.00,137.55 L573.13,137.63 L571.27,137.70 L569.40,137.75 L567.53,137.78 L565.67,137.80 L563.80,137.80 L561.93,137.80 L560.07,137.78 L558.20,137.75 L556.33,137.70 L554.47,137.63 L552.60,137.55 L550.73,137.43 L548.87,137.29 L547.00,137.11 L545.13,136.86 L543.27,136.52 L541.40,135.60Z" fill="#000" opacity="1.0" filter="url(#b04)"/>
<path d="M350.00,128.30 L352.08,127.87 L354.17,127.72 L356.25,127.64 L358.33,127.58 L360.42,127.55 L362.50,127.53 L364.58,127.51 L366.67,127.50 L368.75,127.50 L370.83,127.50 L372.92,127.50 L375.00,127.50 L377.08,127.50 L379.17,127.50 L381.25,127.50 L383.33,127.50 L385.42,127.51 L387.50,127.53 L389.58,127.55 L391.67,127.58 L393.75,127.64 L395.83,127.72 L397.92,127.87 L400.00,128.30 L400.00,128.30 L397.92,128.73 L395.83,128.88 L393.75,128.96 L391.67,129.02 L389.58,129.05 L387.50,129.07 L385.42,129.09 L383.33,129.10 L381.25,129.10 L379.17,129.10 L377.08,129.10 L375.00,129.10 L372.92,129.10 L370.83,129.10 L368.75,129.10 L366.67,129.10 L364.58,129.09 L362.50,129.07 L360.42,129.05 L358.33,129.02 L356.25,128.96 L354.17,128.88 L352.08,128.73 L350.00,128.30Z" fill="#555" opacity="0.3" filter="url(#b10)"/>
<path d="M454.00,128.50 L455.50,128.07 L457.00,127.92 L458.50,127.84 L460.00,127.78 L461.50,127.75 L463.00,127.73 L464.50,127.71 L466.00,127.70 L467.50,127.70 L469.00,127.70 L470.50,127.70 L472.00,127.70 L473.50,127.70 L475.00,127.70 L476.50,127.70 L478.00,127.70 L479.50,127.71 L481.00,127.73 L482.50,127.75 L484.00,127.78 L485.50,127.84 L487.00,127.92 L488.50,128.07 L490.00,128.50 L490.00,128.50 L488.50,128.93 L487.00,129.08 L485.50,129.16 L484.00,129.22 L482.50,129.25 L481.00,129.27 L479.50,129.29 L478.00,129.30 L476.50,129.30 L475.00,129.30 L473.50,129.30 L472.00,129.30 L470.50,129.30 L469.00,129.30 L467.50,129.30 L466.00,129.30 L464.50,129.29 L463.00,129.27 L461.50,129.25 L460.00,129.22 L458.50,129.16 L457.00,129.08 L455.50,128.93 L454.00,128.50Z" fill="#555" opacity="0.3" filter="url(#b10)"/>
<path d="M208.30,175.20 L209.93,173.96 L211.55,173.54 L213.18,173.27 L214.80,173.10 L216.43,172.98 L218.05,172.90 L219.68,172.85 L221.30,172.82 L222.93,172.81 L224.55,172.80 L226.18,172.80 L227.80,172.80 L229.43,172.80 L231.05,172.80 L232.68,172.81 L234.30,172.82 L235.93,172.85 L237.55,172.90 L239.18,172.98 L240.80,173.10 L242.43,173.27 L244.05,173.54 L245.68,173.96 L247.30,175.20 L247.30,175.20 L245.68,176.76 L244.05,177.28 L242.43,177.61 L240.80,177.83 L239.18,177.98 L237.55,178.07 L235.93,178.14 L234.30,178.17 L232.68,178.19 L231.05,178.20 L229.43,178.20 L227.80,178.20 L226.18,178.20 L224.55,178.20 L222.93,178.19 L221.30,178.17 L219.68,178.14 L218.05,178.07 L216.43,177.98 L214.80,177.83 L213.18,177.61 L211.55,177.28 L209.93,176.76 L208.30,175.20Z" fill="#000" opacity="1.0" filter="url(#b08)"/>
<path d="M254.80,174.10 L256.19,173.27 L257.58,172.99 L258.98,172.82 L260.37,172.70 L261.76,172.62 L263.15,172.57 L264.54,172.53 L265.93,172.52 L267.32,172.51 L268.72,172.50 L270.11,172.50 L271.50,172.50 L272.89,172.50 L274.28,172.50 L275.68,172.51 L277.07,172.52 L278.46,172.53 L279.85,172.57 L281.24,172.62 L282.63,172.70 L284.02,172.82 L285.42,172.99 L286.81,173.27 L288.20,174.10 L288.20,174.10 L286.81,174.93 L285.42,175.21 L284.02,175.38 L282.63,175.50 L281.24,175.58 L279.85,175.63 L278.46,175.67 L277.07,175.68 L275.68,175.69 L274.28,175.70 L272.89,175.70 L271.50,175.70 L270.11,175.70 L268.72,175.70 L267.32,175.69 L265.93,175.68 L264.54,175.67 L263.15,175.63 L261.76,175.58 L260.37,175.50 L258.98,175.38 L257.58,175.21 L256.19,174.93 L254.80,174.10Z" fill="#000" opacity="0.95" filter="url(#b08)"/>
<path d="M298.70,174.90 L300.32,173.76 L301.95,173.37 L303.57,173.13 L305.20,172.97 L306.82,172.86 L308.45,172.79 L310.07,172.75 L311.70,172.72 L313.32,172.71 L314.95,172.70 L316.57,172.70 L318.20,172.70 L319.82,172.70 L321.45,172.70 L323.07,172.71 L324.70,172.72 L326.32,172.75 L327.95,172.79 L329.57,172.86 L331.20,172.97 L332.82,173.13 L334.45,173.37 L336.07,173.76 L337.70,174.90 L337.70,174.90 L336.07,176.35 L334.45,176.84 L332.82,177.15 L331.20,177.35 L329.57,177.49 L327.95,177.58 L326.32,177.64 L324.70,177.67 L323.07,177.69 L321.45,177.70 L319.82,177.70 L318.20,177.70 L316.57,177.70 L314.95,177.70 L313.32,177.69 L311.70,177.67 L310.07,177.64 L308.45,177.58 L306.82,177.49 L305.20,177.35 L303.57,177.15 L301.95,176.84 L300.32,176.35 L298.70,174.90Z" fill="#000" opacity="1.0" filter="url(#b08)"/>
<path d="M349.70,174.60 L351.32,173.77 L352.95,173.49 L354.57,173.32 L356.20,173.20 L357.82,173.12 L359.45,173.07 L361.07,173.03 L362.70,173.02 L364.32,173.01 L365.95,173.00 L367.57,173.00 L369.20,173.00 L370.82,173.00 L372.45,173.00 L374.07,173.01 L375.70,173.02 L377.32,173.03 L378.95,173.07 L380.57,173.12 L382.20,173.20 L383.82,173.32 L385.45,173.49 L387.07,173.77 L388.70,174.60 L388.70,174.60 L387.07,175.43 L385.45,175.71 L383.82,175.88 L382.20,176.00 L380.57,176.08 L378.95,176.13 L377.32,176.17 L375.70,176.18 L374.07,176.19 L372.45,176.20 L370.82,176.20 L369.20,176.20 L367.57,176.20 L365.95,176.20 L364.32,176.19 L362.70,176.18 L361.07,176.17 L359.45,176.13 L357.82,176.08 L356.20,176.00 L354.57,175.88 L352.95,175.71 L351.32,175.43 L349.70,174.60Z" fill="#000" opacity="0.95" filter="url(#b08)"/>
<path d="M398.50,174.90 L400.18,173.76 L401.85,173.37 L403.53,173.13 L405.20,172.97 L406.88,172.86 L408.55,172.79 L410.23,172.75 L411.90,172.72 L413.58,172.71 L415.25,172.70 L416.93,172.70 L418.60,172.70 L420.28,172.70 L421.95,172.70 L423.62,172.71 L425.30,172.72 L426.98,172.75 L428.65,172.79 L430.33,172.86 L432.00,172.97 L433.68,173.13 L435.35,173.37 L437.03,173.76 L438.70,174.90 L438.70,174.90 L437.03,176.35 L435.35,176.84 L433.68,177.15 L432.00,177.35 L430.33,177.49 L428.65,177.58 L426.98,177.64 L425.30,177.67 L423.62,177.69 L421.95,177.70 L420.28,177.70 L418.60,177.70 L416.93,177.70 L415.25,177.70 L413.58,177.69 L411.90,177.67 L410.23,177.64 L408.55,177.58 L406.88,177.49 L405.20,177.35 L403.53,177.15 L401.85,176.84 L400.18,176.35 L398.50,174.90Z" fill="#000" opacity="1.0" filter="url(#b08)"/>
<path d="M490.00,174.60 L491.97,173.56 L493.93,173.21 L495.90,172.99 L497.87,172.85 L499.83,172.75 L501.80,172.68 L503.77,172.64 L505.73,172.62 L507.70,172.61 L509.67,172.60 L511.63,172.60 L513.60,172.60 L515.57,172.60 L517.53,172.60 L519.50,172.61 L521.47,172.62 L523.43,172.64 L525.40,172.68 L527.37,172.75 L529.33,172.85 L531.30,172.99 L533.27,173.21 L535.23,173.56 L537.20,174.60 L537.20,174.60 L535.23,175.95 L533.27,176.40 L531.30,176.69 L529.33,176.88 L527.37,177.01 L525.40,177.09 L523.43,177.14 L521.47,177.17 L519.50,177.19 L517.53,177.20 L515.57,177.20 L513.60,177.20 L511.63,177.20 L509.67,177.20 L507.70,177.19 L505.73,177.17 L503.77,177.14 L501.80,177.09 L499.83,177.01 L497.87,176.88 L495.90,176.69 L493.93,176.40 L491.97,175.95 L490.00,174.60Z" fill="#000" opacity="1.0" filter="url(#b08)"/>
<path d="M547.20,174.90 L548.97,174.02 L550.73,173.72 L552.50,173.53 L554.27,173.41 L556.03,173.33 L557.80,173.27 L559.57,173.24 L561.33,173.22 L563.10,173.21 L564.87,173.20 L566.63,173.20 L568.40,173.20 L570.17,173.20 L571.93,173.20 L573.70,173.21 L575.47,173.22 L577.23,173.24 L579.00,173.27 L580.77,173.33 L582.53,173.41 L584.30,173.53 L586.07,173.72 L587.83,174.02 L589.60,174.90 L589.60,174.90 L587.83,176.04 L586.07,176.43 L584.30,176.67 L582.53,176.83 L580.77,176.94 L579.00,177.01 L577.23,177.05 L575.47,177.08 L573.70,177.09 L571.93,177.10 L570.17,177.10 L568.40,177.10 L566.63,177.10 L564.87,177.10 L563.10,177.09 L561.33,177.08 L559.57,177.05 L557.80,177.01 L556.03,176.94 L554.27,176.83 L552.50,176.67 L550.73,176.43 L548.97,176.04 L547.20,174.90Z" fill="#000" opacity="1.0" filter="url(#b08)"/>
<rect x="180.3" y="199" width="432.49999999999994" height="10" fill="#e0e0e0" opacity="0.8" filter="url(#b25)"/>
<rect x="180.3" y="199" width="36" height="11" fill="#dadada" opacity="0.35" filter="url(#b25)"/>
<path d="M204.80,216.10 L207.03,215.06 L209.25,214.75 L211.47,214.57 L213.70,214.47 L215.93,214.41 L218.15,214.38 L220.38,214.36 L222.60,214.35 L224.82,214.35 L227.05,214.35 L229.28,214.35 L231.50,214.35 L233.72,214.35 L235.95,214.35 L238.18,214.35 L240.40,214.35 L242.62,214.36 L244.85,214.38 L247.07,214.41 L249.30,214.47 L251.53,214.57 L253.75,214.75 L255.97,215.06 L258.20,216.10 L258.20,216.10 L255.97,217.14 L253.75,217.45 L251.53,217.63 L249.30,217.73 L247.07,217.79 L244.85,217.82 L242.62,217.84 L240.40,217.85 L238.18,217.85 L235.95,217.85 L233.72,217.85 L231.50,217.85 L229.28,217.85 L227.05,217.85 L224.82,217.85 L222.60,217.85 L220.38,217.84 L218.15,217.82 L215.93,217.79 L213.70,217.73 L211.47,217.63 L209.25,217.45 L207.03,217.14 L204.80,216.10Z" fill="#000" opacity="1.0" filter="url(#b04)"/>
<path d="M255.80,216.10 L257.92,215.06 L260.03,214.75 L262.15,214.57 L264.27,214.47 L266.38,214.41 L268.50,214.38 L270.62,214.36 L272.73,214.35 L274.85,214.35 L276.97,214.35 L279.08,214.35 L281.20,214.35 L283.32,214.35 L285.43,214.35 L287.55,214.35 L289.67,214.35 L291.78,214.36 L293.90,214.38 L296.02,214.41 L298.13,214.47 L300.25,214.57 L302.37,214.75 L304.48,215.06 L306.60,216.10 L306.60,216.10 L304.48,217.14 L302.37,217.45 L300.25,217.63 L298.13,217.73 L296.02,217.79 L293.90,217.82 L291.78,217.84 L289.67,217.85 L287.55,217.85 L285.43,217.85 L283.32,217.85 L281.20,217.85 L279.08,217.85 L276.97,217.85 L274.85,217.85 L272.73,217.85 L270.62,217.84 L268.50,217.82 L266.38,217.79 L264.27,217.73 L262.15,217.63 L260.03,217.45 L257.92,217.14 L255.80,216.10Z" fill="#000" opacity="1.0" filter="url(#b04)"/>
<path d="M304.20,216.10 L306.24,215.06 L308.28,214.75 L310.32,214.57 L312.37,214.47 L314.41,214.41 L316.45,214.38 L318.49,214.36 L320.53,214.35 L322.57,214.35 L324.62,214.35 L326.66,214.35 L328.70,214.35 L330.74,214.35 L332.78,214.35 L334.82,214.35 L336.87,214.35 L338.91,214.36 L340.95,214.38 L342.99,214.41 L345.03,214.47 L347.07,214.57 L349.12,214.75 L351.16,215.06 L353.20,216.10 L353.20,216.10 L351.16,217.14 L349.12,217.45 L347.07,217.63 L345.03,217.73 L342.99,217.79 L340.95,217.82 L338.91,217.84 L336.87,217.85 L334.82,217.85 L332.78,217.85 L330.74,217.85 L328.70,217.85 L326.66,217.85 L324.62,217.85 L322.57,217.85 L320.53,217.85 L318.49,217.84 L316.45,217.82 L314.41,217.79 L312.37,217.73 L310.32,217.63 L308.28,217.45 L306.24,217.14 L304.20,216.10Z" fill="#000" opacity="1.0" filter="url(#b04)"/>
<path d="M350.80,216.10 L352.88,215.06 L354.96,214.75 L357.04,214.57 L359.12,214.47 L361.20,214.41 L363.27,214.38 L365.35,214.36 L367.43,214.35 L369.51,214.35 L371.59,214.35 L373.67,214.35 L375.75,214.35 L377.83,214.35 L379.91,214.35 L381.99,214.35 L384.07,214.35 L386.15,214.36 L388.23,214.38 L390.30,214.41 L392.38,214.47 L394.46,214.57 L396.54,214.75 L398.62,215.06 L400.70,216.10 L400.70,216.10 L398.62,217.14 L396.54,217.45 L394.46,217.63 L392.38,217.73 L390.30,217.79 L388.23,217.82 L386.15,217.84 L384.07,217.85 L381.99,217.85 L379.91,217.85 L377.83,217.85 L375.75,217.85 L373.67,217.85 L371.59,217.85 L369.51,217.85 L367.43,217.85 L365.35,217.84 L363.27,217.82 L361.20,217.79 L359.12,217.73 L357.04,217.63 L354.96,217.45 L352.88,217.14 L350.80,216.10Z" fill="#000" opacity="1.0" filter="url(#b04)"/>
<path d="M398.30,216.10 L400.41,215.06 L402.52,214.75 L404.62,214.57 L406.73,214.47 L408.84,214.41 L410.95,214.38 L413.06,214.36 L415.17,214.35 L417.28,214.35 L419.38,214.35 L421.49,214.35 L423.60,214.35 L425.71,214.35 L427.82,214.35 L429.93,214.35 L432.03,214.35 L434.14,214.36 L436.25,214.38 L438.36,214.41 L440.47,214.47 L442.58,214.57 L444.68,214.75 L446.79,215.06 L448.90,216.10 L448.90,216.10 L446.79,217.14 L444.68,217.45 L442.58,217.63 L440.47,217.73 L438.36,217.79 L436.25,217.82 L434.14,217.84 L432.03,217.85 L429.93,217.85 L427.82,217.85 L425.71,217.85 L423.60,217.85 L421.49,217.85 L419.38,217.85 L417.28,217.85 L415.17,217.85 L413.06,217.84 L410.95,217.82 L408.84,217.79 L406.73,217.73 L404.62,217.63 L402.52,217.45 L400.41,217.14 L398.30,216.10Z" fill="#000" opacity="1.0" filter="url(#b04)"/>
<path d="M446.50,216.10 L448.59,215.06 L450.67,214.75 L452.76,214.57 L454.85,214.47 L456.94,214.41 L459.02,214.38 L461.11,214.36 L463.20,214.35 L465.29,214.35 L467.37,214.35 L469.46,214.35 L471.55,214.35 L473.64,214.35 L475.72,214.35 L477.81,214.35 L479.90,214.35 L481.99,214.36 L484.07,214.38 L486.16,214.41 L488.25,214.47 L490.34,214.57 L492.42,214.75 L494.51,215.06 L496.60,216.10 L496.60,216.10 L494.51,217.14 L492.42,217.45 L490.34,217.63 L488.25,217.73 L486.16,217.79 L484.07,217.82 L481.99,217.84 L479.90,217.85 L477.81,217.85 L475.72,217.85 L473.64,217.85 L471.55,217.85 L469.46,217.85 L467.37,217.85 L465.29,217.85 L463.20,217.85 L461.11,217.84 L459.02,217.82 L456.94,217.79 L454.85,217.73 L452.76,217.63 L450.67,217.45 L448.59,217.14 L446.50,216.10Z" fill="#000" opacity="1.0" filter="url(#b04)"/>
<path d="M494.20,216.10 L496.33,215.06 L498.47,214.75 L500.60,214.57 L502.73,214.47 L504.87,214.41 L507.00,214.38 L509.13,214.36 L511.27,214.35 L513.40,214.35 L515.53,214.35 L517.67,214.35 L519.80,214.35 L521.93,214.35 L524.07,214.35 L526.20,214.35 L528.33,214.35 L530.47,214.36 L532.60,214.38 L534.73,214.41 L536.87,214.47 L539.00,214.57 L541.13,214.75 L543.27,215.06 L545.40,216.10 L545.40,216.10 L543.27,217.14 L541.13,217.45 L539.00,217.63 L536.87,217.73 L534.73,217.79 L532.60,217.82 L530.47,217.84 L528.33,217.85 L526.20,217.85 L524.07,217.85 L521.93,217.85 L519.80,217.85 L517.67,217.85 L515.53,217.85 L513.40,217.85 L511.27,217.85 L509.13,217.84 L507.00,217.82 L504.87,217.79 L502.73,217.73 L500.60,217.63 L498.47,217.45 L496.33,217.14 L494.20,216.10Z" fill="#000" opacity="1.0" filter="url(#b04)"/>
<path d="M543.00,216.10 L545.01,215.06 L547.02,214.75 L549.03,214.57 L551.03,214.47 L553.04,214.41 L555.05,214.38 L557.06,214.36 L559.07,214.35 L561.08,214.35 L563.08,214.35 L565.09,214.35 L567.10,214.35 L569.11,214.35 L571.12,214.35 L573.12,214.35 L575.13,214.35 L577.14,214.36 L579.15,214.38 L581.16,214.41 L583.17,214.47 L585.17,214.57 L587.18,214.75 L589.19,215.06 L591.20,216.10 L591.20,216.10 L589.19,217.14 L587.18,217.45 L585.17,217.63 L583.17,217.73 L581.16,217.79 L579.15,217.82 L577.14,217.84 L575.13,217.85 L573.12,217.85 L571.12,217.85 L569.11,217.85 L567.10,217.85 L565.09,217.85 L563.08,217.85 L561.08,217.85 L559.07,217.85 L557.06,217.84 L555.05,217.82 L553.04,217.79 L551.03,217.73 L549.03,217.63 L547.02,217.45 L545.01,217.14 L543.00,216.10Z" fill="#000" opacity="1.0" filter="url(#b04)"/>
<path d="M586.50,216.30 L587.12,215.50 L587.75,215.19 L588.38,214.98 L589.00,214.81 L589.62,214.68 L590.25,214.57 L590.88,214.48 L591.50,214.41 L592.12,214.36 L592.75,214.33 L593.38,214.31 L594.00,214.30 L594.62,214.31 L595.25,214.33 L595.88,214.36 L596.50,214.41 L597.12,214.48 L597.75,214.57 L598.38,214.68 L599.00,214.81 L599.62,214.98 L600.25,215.19 L600.88,215.50 L601.50,216.30 L601.50,216.30 L600.88,217.10 L600.25,217.41 L599.62,217.62 L599.00,217.79 L598.38,217.92 L597.75,218.03 L597.12,218.12 L596.50,218.19 L595.88,218.24 L595.25,218.27 L594.62,218.29 L594.00,218.30 L593.38,218.29 L592.75,218.27 L592.12,218.24 L591.50,218.19 L590.88,218.12 L590.25,218.03 L589.62,217.92 L589.00,217.79 L588.38,217.62 L587.75,217.41 L587.12,217.10 L586.50,216.30Z" fill="#666" opacity="0.45" filter="url(#b15)"/>
<rect x="179.9" y="41.8" width="433.29999999999995" height="33.699999999999996" fill="none" stroke="#e6e6e6" stroke-width="0.9" opacity="0.7"/>
<rect x="178.85000000000002" y="41.0" width="435.3999999999999" height="35.3" fill="none" stroke="#3a3a3a" stroke-width="1.0"/>
<line x1="179.20000000000002" y1="40.5" x2="179.20000000000002" y2="76.8" stroke="#3a3a3a" stroke-width="1.8"/>
<rect x="179.9" y="79.6" width="433.29999999999995" height="33.9" fill="none" stroke="#e6e6e6" stroke-width="0.9" opacity="0.7"/>
<rect x="178.85000000000002" y="78.8" width="435.3999999999999" height="35.5" fill="none" stroke="#3a3a3a" stroke-width="1.0"/>
<line x1="179.20000000000002" y1="78.3" x2="179.20000000000002" y2="114.8" stroke="#3a3a3a" stroke-width="1.8"/>
<rect x="179.9" y="119.0" width="433.29999999999995" height="33.79999999999999" fill="none" stroke="#e6e6e6" stroke-width="0.9" opacity="0.7"/>
<rect x="178.85000000000002" y="118.2" width="435.3999999999999" height="35.39999999999999" fill="none" stroke="#3a3a3a" stroke-width="1.0"/>
<line x1="179.20000000000002" y1="117.7" x2="179.20000000000002" y2="154.1" stroke="#3a3a3a" stroke-width="1.8"/>
<rect x="179.9" y="158.10000000000002" width="433.29999999999995" height="33.9" fill="none" stroke="#e6e6e6" stroke-width="0.9" opacity="0.7"/>
<rect x="178.85000000000002" y="157.3" width="435.3999999999999" height="35.5" fill="none" stroke="#3a3a3a" stroke-width="1.0"/>
<line x1="179.20000000000002" y1="156.8" x2="179.20000000000002" y2="193.3" stroke="#3a3a3a" stroke-width="1.8"/>
<rect x="179.9" y="197.60000000000002" width="433.29999999999995" height="33.59999999999999" fill="none" stroke="#e6e6e6" stroke-width="0.9" opacity="0.7"/>
<rect x="178.85000000000002" y="196.8" width="435.3999999999999" height="35.19999999999999" fill="none" stroke="#3a3a3a" stroke-width="1.0"/>
<line x1="179.20000000000002" y1="196.3" x2="179.20000000000002" y2="232.5" stroke="#3a3a3a" stroke-width="1.8"/>
<rect x="116.5" y="269.5" width="206.0" height="135.0" fill="none" stroke="#7a7a7a" stroke-width="1"/>
<line x1="111.3" y1="398.30" x2="116.5" y2="398.30" stroke="#333" stroke-width="1.1"/>
<text x="108.4" y="402.2" font-family="'Liberation Sans', Arial, Helvetica, sans-serif" font-size="11.2" text-anchor="end" font-weight="normal" fill="#000" >0</text>
<line x1="111.3" y1="380.85" x2="116.5" y2="380.85" stroke="#333" stroke-width="1.1"/>
<text x="108.4" y="384.75" font-family="'Liberation Sans', Arial, Helvetica, sans-serif" font-size="11.2" text-anchor="end" font-weight="normal" fill="#000" >1</text>
<line x1="111.3" y1="363.40" x2="116.5" y2="363.40" stroke="#333" stroke-width="1.1"/>
<text x="108.4" y="367.3" font-family="'Liberation Sans', Arial, Helvetica, sans-serif" font-size="11.2" text-anchor="end" font-weight="normal" fill="#000" >2</text>
<line x1="111.3" y1="345.95" x2="116.5" y2="345.95" stroke="#333" stroke-width="1.1"/>
<text x="108.4" y="349.85" font-family="'Liberation Sans', Arial, Helvetica, sans-serif" font-size="11.2" text-anchor="end" font-weight="normal" fill="#000" >3</text>
<line x1="111.3" y1="328.50" x2="116.5" y2="328.50" stroke="#333" stroke-width="1.1"/>
<text x="108.4" y="332.4" font-family="'Liberation Sans', Arial, Helvetica, sans-serif" font-size="11.2" text-anchor="end" font-weight="normal" fill="#000" >4</text>
<line x1="111.3" y1="311.05" x2="116.5" y2="311.05" stroke="#333" stroke-width="1.1"/>
<text x="108.4" y="314.95" font-family="'Liberation Sans', Arial, Helvetica, sans-serif" font-size="11.2" text-anchor="end" font-weight="normal" fill="#000" >5</text>
<line x1="111.3" y1="293.60" x2="116.5" y2="293.60" stroke="#333" stroke-width="1.1"/>
<text x="108.4" y="297.5" font-family="'Liberation Sans', Arial, Helvetica, sans-serif" font-size="11.2" text-anchor="end" font-weight="normal" fill="#000" >6</text>
<line x1="111.3" y1="276.15" x2="116.5" y2="276.15" stroke="#333" stroke-width="1.1"/>
<text x="108.4" y="280.05" font-family="'Liberation Sans', Arial, Helvetica, sans-serif" font-size="11.2" text-anchor="end" font-weight="normal" fill="#000" >7</text>
<text transform="translate(78.4,338.8) rotate(-90)" font-family="'Liberation Sans', Arial, Helvetica, sans-serif" font-size="11.5" text-anchor="middle">Relative protein levels</text>
<text transform="translate(93.2,338.0) rotate(-90)" font-family="'Liberation Sans', Arial, Helvetica, sans-serif" font-size="11.5" text-anchor="middle">(% of control)</text>
<line x1="138.7" y1="404.5" x2="138.7" y2="409.8" stroke="#333" stroke-width="1.1"/>
<text x="138.7" y="421.7" font-family="'Liberation Sans', Arial, Helvetica, sans-serif" font-size="11.0" text-anchor="middle" font-weight="normal" fill="#000" >T</text>
<line x1="161.9" y1="404.5" x2="161.9" y2="409.8" stroke="#333" stroke-width="1.1"/>
<text x="161.9" y="421.7" font-family="'Liberation Sans', Arial, Helvetica, sans-serif" font-size="11.0" text-anchor="middle" font-weight="normal" fill="#000" >N</text>
<line x1="185.6" y1="404.5" x2="185.6" y2="409.8" stroke="#333" stroke-width="1.1"/>
<text x="185.6" y="421.7" font-family="'Liberation Sans', Arial, Helvetica, sans-serif" font-size="11.0" text-anchor="middle" font-weight="normal" fill="#000" >T</text>
<line x1="208.6" y1="404.5" x2="208.6" y2="409.8" stroke="#333" stroke-width="1.1"/>
<text x="208.6" y="421.7" font-family="'Liberation Sans', Arial, Helvetica, sans-serif" font-size="11.0" text-anchor="middle" font-weight="normal" fill="#000" >N</text>
<line x1="231.5" y1="404.5" x2="231.5" y2="409.8" stroke="#333" stroke-width="1.1"/>
<text x="231.5" y="421.7" font-family="'Liberation Sans', Arial, Helvetica, sans-serif" font-size="11.0" text-anchor="middle" font-weight="normal" fill="#000" >T</text>
<line x1="254.5" y1="404.5" x2="254.5" y2="409.8" stroke="#333" stroke-width="1.1"/>
<text x="254.5" y="421.7" font-family="'Liberation Sans', Arial, Helvetica, sans-serif" font-size="11.0" text-anchor="middle" font-weight="normal" fill="#000" >N</text>
<line x1="277.7" y1="404.5" x2="277.7" y2="409.8" stroke="#333" stroke-width="1.1"/>
<text x="277.7" y="421.7" font-family="'Liberation Sans', Arial, Helvetica, sans-serif" font-size="11.0" text-anchor="middle" font-weight="normal" fill="#000" >T</text>
<line x1="301.0" y1="404.5" x2="301.0" y2="409.8" stroke="#333" stroke-width="1.1"/>
<text x="301.0" y="421.7" font-family="'Liberation Sans', Arial, Helvetica, sans-serif" font-size="11.0" text-anchor="middle" font-weight="normal" fill="#000" >N</text>
<line x1="136.0" y1="427.6" x2="167.6" y2="427.6" stroke="#000" stroke-width="3"/>
<line x1="180.9" y1="427.6" x2="212.9" y2="427.6" stroke="#000" stroke-width="3"/>
<line x1="227.4" y1="427.6" x2="259.3" y2="427.6" stroke="#000" stroke-width="3"/>
<line x1="273.1" y1="427.6" x2="305.2" y2="427.6" stroke="#000" stroke-width="3"/>
<text transform="translate(154.9,438.7) rotate(-45)" font-family="'Liberation Sans', Arial, Helvetica, sans-serif" font-size="11.5" text-anchor="end">Fas</text>
<text transform="translate(201.2,437.7) rotate(-45)" font-family="'Liberation Sans', Arial, Helvetica, sans-serif" font-size="11.5" text-anchor="end">Caspase-8</text>
<text transform="translate(249.0,438.5) rotate(-45)" font-family="'Liberation Sans', Arial, Helvetica, sans-serif" font-size="11.5" text-anchor="end">Caspase-3</text>
<text transform="translate(296.0,438.0) rotate(-45)" font-family="'Liberation Sans', Arial, Helvetica, sans-serif" font-size="11.5" text-anchor="end">PARP1</text>
<line x1="138.7" y1="390.10" x2="138.7" y2="393.94" stroke="#555" stroke-width="1"/>
<line x1="138.7" y1="397.78" x2="138.7" y2="398.30" stroke="#555" stroke-width="1"/>
<line x1="135.7" y1="390.10" x2="141.7" y2="390.10" stroke="#555" stroke-width="1.2"/>
<line x1="135.7" y1="398.30" x2="141.7" y2="398.30" stroke="#555" stroke-width="1.2"/>
<rect x="129.70" y="393.94" width="18.0" height="3.84" fill="#bfbfbf" stroke="#555" stroke-width="1"/>
<line x1="129.70" y1="396.56" x2="147.70" y2="396.56" stroke="#000" stroke-width="2.6"/>
<line x1="161.9" y1="322.39" x2="161.9" y2="341.24" stroke="#555" stroke-width="1"/>
<line x1="161.9" y1="355.20" x2="161.9" y2="373.87" stroke="#555" stroke-width="1"/>
<line x1="158.9" y1="322.39" x2="164.9" y2="322.39" stroke="#555" stroke-width="1.2"/>
<line x1="158.9" y1="373.87" x2="164.9" y2="373.87" stroke="#555" stroke-width="1.2"/>
<rect x="152.90" y="341.24" width="18.0" height="13.96" fill="#bfbfbf" stroke="#555" stroke-width="1"/>
<line x1="152.90" y1="344.55" x2="170.90" y2="344.55" stroke="#000" stroke-width="2.6"/>
<line x1="185.6" y1="392.19" x2="185.6" y2="394.46" stroke="#555" stroke-width="1"/>
<line x1="185.6" y1="396.90" x2="185.6" y2="397.95" stroke="#555" stroke-width="1"/>
<line x1="182.6" y1="392.19" x2="188.6" y2="392.19" stroke="#555" stroke-width="1.2"/>
<line x1="182.6" y1="397.95" x2="188.6" y2="397.95" stroke="#555" stroke-width="1.2"/>
<rect x="176.60" y="394.46" width="18.0" height="2.44" fill="#bfbfbf" stroke="#555" stroke-width="1"/>
<line x1="176.60" y1="395.68" x2="194.60" y2="395.68" stroke="#000" stroke-width="2.6"/>
<line x1="208.6" y1="306.69" x2="208.6" y2="326.23" stroke="#555" stroke-width="1"/>
<line x1="208.6" y1="343.86" x2="208.6" y2="363.40" stroke="#555" stroke-width="1"/>
<line x1="205.6" y1="306.69" x2="211.6" y2="306.69" stroke="#555" stroke-width="1.2"/>
<line x1="205.6" y1="363.40" x2="211.6" y2="363.40" stroke="#555" stroke-width="1.2"/>
<rect x="199.60" y="326.23" width="18.0" height="17.62" fill="#bfbfbf" stroke="#555" stroke-width="1"/>
<line x1="199.60" y1="341.59" x2="217.60" y2="341.59" stroke="#000" stroke-width="2.6"/>
<line x1="231.5" y1="389.05" x2="231.5" y2="393.06" stroke="#555" stroke-width="1"/>
<line x1="231.5" y1="397.78" x2="231.5" y2="398.30" stroke="#555" stroke-width="1"/>
<line x1="228.5" y1="389.05" x2="234.5" y2="389.05" stroke="#555" stroke-width="1.2"/>
<line x1="228.5" y1="398.30" x2="234.5" y2="398.30" stroke="#555" stroke-width="1.2"/>
<rect x="222.50" y="393.06" width="18.0" height="4.71" fill="#bfbfbf" stroke="#555" stroke-width="1"/>
<line x1="222.50" y1="396.03" x2="240.50" y2="396.03" stroke="#000" stroke-width="2.6"/>
<line x1="254.5" y1="323.79" x2="254.5" y2="330.25" stroke="#555" stroke-width="1"/>
<line x1="254.5" y1="345.95" x2="254.5" y2="363.40" stroke="#555" stroke-width="1"/>
<line x1="251.5" y1="323.79" x2="257.5" y2="323.79" stroke="#555" stroke-width="1.2"/>
<line x1="251.5" y1="363.40" x2="257.5" y2="363.40" stroke="#555" stroke-width="1.2"/>
<rect x="245.50" y="330.25" width="18.0" height="15.71" fill="#bfbfbf" stroke="#555" stroke-width="1"/>
<line x1="245.50" y1="341.94" x2="263.50" y2="341.94" stroke="#000" stroke-width="2.6"/>
<line x1="277.7" y1="304.59" x2="277.7" y2="324.14" stroke="#555" stroke-width="1"/>
<line x1="277.7" y1="343.86" x2="277.7" y2="360.43" stroke="#555" stroke-width="1"/>
<line x1="274.7" y1="304.59" x2="280.7" y2="304.59" stroke="#555" stroke-width="1.2"/>
<line x1="274.7" y1="360.43" x2="280.7" y2="360.43" stroke="#555" stroke-width="1.2"/>
<rect x="268.70" y="324.14" width="18.0" height="19.72" fill="#bfbfbf" stroke="#555" stroke-width="1"/>
<line x1="268.70" y1="333.74" x2="286.70" y2="333.74" stroke="#000" stroke-width="2.6"/>
<line x1="301.0" y1="392.72" x2="301.0" y2="394.81" stroke="#555" stroke-width="1"/>
<line x1="301.0" y1="397.43" x2="301.0" y2="398.30" stroke="#555" stroke-width="1"/>
<line x1="298.0" y1="392.72" x2="304.0" y2="392.72" stroke="#555" stroke-width="1.2"/>
<line x1="298.0" y1="398.30" x2="304.0" y2="398.30" stroke="#555" stroke-width="1.2"/>
<rect x="292.00" y="394.81" width="18.0" height="2.62" fill="#bfbfbf" stroke="#555" stroke-width="1"/>
<line x1="292.00" y1="396.21" x2="310.00" y2="396.21" stroke="#000" stroke-width="2.6"/>
<polyline points="138.7,384.7 138.7,310.1 161.9,310.1 161.9,320.2" fill="none" stroke="#666" stroke-width="1.1"/>
<text x="150.2" y="313.5" font-family="'Liberation Serif', 'Times New Roman', serif" font-size="22.5" text-anchor="middle" font-weight="normal" fill="#222" style="stroke:none">*</text>
<polyline points="185.6,391.2 185.6,291.6 208.6,291.6 208.6,304.0" fill="none" stroke="#666" stroke-width="1.1"/>
<text x="196.6" y="295.0" font-family="'Liberation Serif', 'Times New Roman', serif" font-size="22.5" text-anchor="middle" font-weight="normal" fill="#222" style="stroke:none">*</text>
<polyline points="231.5,382.6 231.5,306.2 254.5,306.2 254.5,321.3" fill="none" stroke="#666" stroke-width="1.1"/>
<text x="244.4" y="309.59999999999997" font-family="'Liberation Serif', 'Times New Roman', serif" font-size="22.5" text-anchor="middle" font-weight="normal" fill="#222" style="stroke:none">*</text>
<polyline points="277.7,298.7 277.7,291.6 301.0,291.6 301.0,388.0" fill="none" stroke="#666" stroke-width="1.1"/>
<text x="289.2" y="295.0" font-family="'Liberation Serif', 'Times New Roman', serif" font-size="22.5" text-anchor="middle" font-weight="normal" fill="#222" style="stroke:none">*</text>
<line x1="424.5" y1="400.0" x2="603.0" y2="304.5" stroke="#333" stroke-width="0.9"/>
<line x1="424.3" y1="271.0" x2="424.3" y2="405.0" stroke="#000" stroke-width="2"/>
<line x1="423.3" y1="404.0" x2="611.3" y2="404.0" stroke="#000" stroke-width="2"/>
<line x1="419.3" y1="404.0" x2="424.3" y2="404.0" stroke="#000" stroke-width="2"/>
<text x="416.7" y="407.9" font-family="'Liberation Sans', Arial, Helvetica, sans-serif" font-size="11.2" text-anchor="end" font-weight="normal" fill="#000" >0</text>
<line x1="419.3" y1="371.0" x2="424.3" y2="371.0" stroke="#000" stroke-width="2"/>
<text x="416.7" y="374.9" font-family="'Liberation Sans', Arial, Helvetica, sans-serif" font-size="11.2" text-anchor="end" font-weight="normal" fill="#000" >2</text>
<line x1="419.3" y1="338.0" x2="424.3" y2="338.0" stroke="#000" stroke-width="2"/>
<text x="416.7" y="341.9" font-family="'Liberation Sans', Arial, Helvetica, sans-serif" font-size="11.2" text-anchor="end" font-weight="normal" fill="#000" >4</text>
<line x1="419.3" y1="305.0" x2="424.3" y2="305.0" stroke="#000" stroke-width="2"/>
<text x="416.7" y="308.9" font-family="'Liberation Sans', Arial, Helvetica, sans-serif" font-size="11.2" text-anchor="end" font-weight="normal" fill="#000" >6</text>
<line x1="419.3" y1="272.0" x2="424.3" y2="272.0" stroke="#000" stroke-width="2"/>
<text x="416.7" y="275.9" font-family="'Liberation Sans', Arial, Helvetica, sans-serif" font-size="11.2" text-anchor="end" font-weight="normal" fill="#000" >8</text>
<line x1="424.3" y1="404.0" x2="424.3" y2="408.5" stroke="#000" stroke-width="2"/>
<text x="424.3" y="421.8" font-family="'Liberation Sans', Arial, Helvetica, sans-serif" font-size="11.2" text-anchor="middle" font-weight="normal" fill="#000" >0</text>
<line x1="486.3" y1="404.0" x2="486.3" y2="408.5" stroke="#000" stroke-width="2"/>
<text x="486.3" y="421.8" font-family="'Liberation Sans', Arial, Helvetica, sans-serif" font-size="11.2" text-anchor="middle" font-weight="normal" fill="#000" >2</text>
<line x1="548.3" y1="404.0" x2="548.3" y2="408.5" stroke="#000" stroke-width="2"/>
<text x="548.3" y="421.8" font-family="'Liberation Sans', Arial, Helvetica, sans-serif" font-size="11.2" text-anchor="middle" font-weight="normal" fill="#000" >4</text>
<line x1="610.3" y1="404.0" x2="610.3" y2="408.5" stroke="#000" stroke-width="2"/>
<text x="610.3" y="421.8" font-family="'Liberation Sans', Arial, Helvetica, sans-serif" font-size="11.2" text-anchor="middle" font-weight="normal" fill="#000" >6</text>
<text transform="translate(399.8,338.6) rotate(-90)" font-family="'Liberation Sans', Arial, Helvetica, sans-serif" font-size="11.5" text-anchor="middle">Fas/&#946;-actin</text>
<text x="515.1" y="435.6" font-family="'Liberation Sans', Arial, Helvetica, sans-serif" font-size="11.5" text-anchor="middle" font-weight="normal" fill="#000" >Caspase-8/&#946;-actin</text>
<text x="459.6" y="289.3" font-family="'Liberation Sans', Arial, Helvetica, sans-serif" font-size="11.5" text-anchor="start" font-weight="normal" fill="#000" >R<tspan font-size="6.8" dy="-4.2">2</tspan><tspan dy="4.2">=0.9085</tspan></text>
<rect x="518.35" y="331.45" width="8.1" height="8.1" fill="#000" stroke="#e8e8e8" stroke-width="0.7"/>
<rect x="483.65" y="346.45" width="8.1" height="8.1" fill="#000" stroke="#e8e8e8" stroke-width="0.7"/>
<rect x="522.75" y="347.95" width="8.1" height="8.1" fill="#000" stroke="#e8e8e8" stroke-width="0.7"/>
<rect x="550.55" y="346.15" width="8.1" height="8.1" fill="#000" stroke="#e8e8e8" stroke-width="0.7"/>
<rect x="582.35" y="296.65" width="8.1" height="8.1" fill="#000" stroke="#e8e8e8" stroke-width="0.7"/>
<rect x="542.05" y="313.05" width="8.1" height="8.1" fill="#000" stroke="#e8e8e8" stroke-width="0.7"/>
<rect x="553.45" y="313.55" width="8.1" height="8.1" fill="#000" stroke="#e8e8e8" stroke-width="0.7"/>
<rect x="496.25" y="324.05" width="8.1" height="8.1" fill="#000" stroke="#e8e8e8" stroke-width="0.7"/>
<rect x="521.35" y="330.05" width="8.1" height="8.1" fill="#000" stroke="#e8e8e8" stroke-width="0.7"/>
<rect x="530.55" y="330.05" width="8.1" height="8.1" fill="#000" stroke="#e8e8e8" stroke-width="0.7"/>
<rect x="519.65" y="339.85" width="8.1" height="8.1" fill="#000" stroke="#e8e8e8" stroke-width="0.7"/>
<rect x="486.45" y="346.45" width="8.1" height="8.1" fill="#000" stroke="#e8e8e8" stroke-width="0.7"/>
<rect x="490.05" y="346.45" width="8.1" height="8.1" fill="#000" stroke="#e8e8e8" stroke-width="0.7"/>
<rect x="496.25" y="346.45" width="8.1" height="8.1" fill="#000" stroke="#e8e8e8" stroke-width="0.7"/>
<rect x="502.55" y="346.45" width="8.1" height="8.1" fill="#000" stroke="#e8e8e8" stroke-width="0.7"/>
<rect x="509.55" y="346.15" width="8.1" height="8.1" fill="#000" stroke="#e8e8e8" stroke-width="0.7"/>
<rect x="518.35" y="348.35" width="8.1" height="8.1" fill="#000" stroke="#e8e8e8" stroke-width="0.7"/>
<rect x="520.85" y="347.85" width="8.1" height="8.1" fill="#000" stroke="#e8e8e8" stroke-width="0.7"/>
<rect x="554.25" y="346.15" width="8.1" height="8.1" fill="#000" stroke="#e8e8e8" stroke-width="0.7"/>
<rect x="486.45" y="356.25" width="8.1" height="8.1" fill="#000" stroke="#e8e8e8" stroke-width="0.7"/>
<rect x="486.45" y="362.55" width="8.1" height="8.1" fill="#000" stroke="#e8e8e8" stroke-width="0.7"/>
<rect x="508.65" y="357.95" width="8.1" height="8.1" fill="#000" stroke="#e8e8e8" stroke-width="0.7"/>
<rect x="517.45" y="357.95" width="8.1" height="8.1" fill="#000" stroke="#e8e8e8" stroke-width="0.7"/>
<rect x="459.55" y="366.35" width="8.1" height="8.1" fill="#000" stroke="#e8e8e8" stroke-width="0.7"/>
<rect x="463.25" y="366.35" width="8.1" height="8.1" fill="#000" stroke="#e8e8e8" stroke-width="0.7"/>
<polygon points="456.90,375.35 461.35,379.80 456.90,384.25 452.45,379.80" fill="#fff" stroke="#111" stroke-width="1.05"/>
<polygon points="428.70,387.85 433.15,392.30 428.70,396.75 424.25,392.30" fill="#fff" stroke="#111" stroke-width="1.05"/>
<polygon points="434.60,396.05 439.05,400.50 434.60,404.95 430.15,400.50" fill="#fff" stroke="#111" stroke-width="1.05"/>
<polygon points="439.70,397.75 444.15,402.20 439.70,406.65 435.25,402.20" fill="#fff" stroke="#111" stroke-width="1.05"/>
<polygon points="428.30,397.75 432.75,402.20 428.30,406.65 423.85,402.20" fill="#fff" stroke="#111" stroke-width="1.05"/>
<polygon points="423.20,393.55 427.65,398.00 423.20,402.45 418.75,398.00" fill="#fff" stroke="#111" stroke-width="1.05"/>
<polygon points="422.40,398.15 426.85,402.60 422.40,407.05 417.95,402.60" fill="#fff" stroke="#111" stroke-width="1.05"/>
<polygon points="424.50,400.75 428.95,405.20 424.50,409.65 420.05,405.20" fill="#fff" stroke="#111" stroke-width="1.05"/>
<polygon points="430.50,392.55 434.95,397.00 430.50,401.45 426.05,397.00" fill="#fff" stroke="#111" stroke-width="1.05"/>
<polygon points="623.30,329.20 627.70,333.60 623.30,338.00 618.90,333.60" fill="#fff" stroke="#111" stroke-width="1.1"/>
<text x="631.9" y="337.70000000000005" font-family="'Liberation Sans', Arial, Helvetica, sans-serif" font-size="11.5" text-anchor="start" font-weight="normal" fill="#000" >T</text>
<rect x="619.50" y="356.00" width="8.0" height="8.0" fill="#000" stroke="#e8e8e8" stroke-width="0.7"/>
<text x="631.1" y="364.0" font-family="'Liberation Sans', Arial, Helvetica, sans-serif" font-size="11.5" text-anchor="start" font-weight="normal" fill="#000" >N</text>
<line x1="116.5" y1="652.5" x2="281.5" y2="541.5" stroke="#333" stroke-width="0.9"/>
<line x1="117.8" y1="521.4" x2="117.8" y2="657.8" stroke="#000" stroke-width="2"/>
<line x1="116.8" y1="656.8" x2="301.7" y2="656.8" stroke="#000" stroke-width="2"/>
<line x1="112.8" y1="656.8" x2="117.8" y2="656.8" stroke="#000" stroke-width="2"/>
<text x="110.2" y="660.6999999999999" font-family="'Liberation Sans', Arial, Helvetica, sans-serif" font-size="11.2" text-anchor="end" font-weight="normal" fill="#000" >0</text>
<line x1="112.8" y1="612.0" x2="117.8" y2="612.0" stroke="#000" stroke-width="2"/>
<text x="110.2" y="615.9" font-family="'Liberation Sans', Arial, Helvetica, sans-serif" font-size="11.2" text-anchor="end" font-weight="normal" fill="#000" >2</text>
<line x1="112.8" y1="567.1999999999999" x2="117.8" y2="567.1999999999999" stroke="#000" stroke-width="2"/>
<text x="110.2" y="571.0999999999999" font-family="'Liberation Sans', Arial, Helvetica, sans-serif" font-size="11.2" text-anchor="end" font-weight="normal" fill="#000" >4</text>
<line x1="112.8" y1="522.4" x2="117.8" y2="522.4" stroke="#000" stroke-width="2"/>
<text x="110.2" y="526.3" font-family="'Liberation Sans', Arial, Helvetica, sans-serif" font-size="11.2" text-anchor="end" font-weight="normal" fill="#000" >6</text>
<line x1="117.7" y1="656.8" x2="117.7" y2="661.3" stroke="#000" stroke-width="2"/>
<text x="117.7" y="674.5999999999999" font-family="'Liberation Sans', Arial, Helvetica, sans-serif" font-size="11.2" text-anchor="middle" font-weight="normal" fill="#000" >0</text>
<line x1="178.7" y1="656.8" x2="178.7" y2="661.3" stroke="#000" stroke-width="2"/>
<text x="178.7" y="674.5999999999999" font-family="'Liberation Sans', Arial, Helvetica, sans-serif" font-size="11.2" text-anchor="middle" font-weight="normal" fill="#000" >2</text>
<line x1="239.7" y1="656.8" x2="239.7" y2="661.3" stroke="#000" stroke-width="2"/>
<text x="239.7" y="674.5999999999999" font-family="'Liberation Sans', Arial, Helvetica, sans-serif" font-size="11.2" text-anchor="middle" font-weight="normal" fill="#000" >4</text>
<line x1="300.7" y1="656.8" x2="300.7" y2="661.3" stroke="#000" stroke-width="2"/>
<text x="300.7" y="674.5999999999999" font-family="'Liberation Sans', Arial, Helvetica, sans-serif" font-size="11.2" text-anchor="middle" font-weight="normal" fill="#000" >6</text>
<text transform="translate(92.5,589.8) rotate(-90)" font-family="'Liberation Sans', Arial, Helvetica, sans-serif" font-size="11.5" text-anchor="middle">Fas/&#946;-actin</text>
<text x="208.2" y="690.2" font-family="'Liberation Sans', Arial, Helvetica, sans-serif" font-size="11.5" text-anchor="middle" font-weight="normal" fill="#000" >Caspase-3/&#946;-actin</text>
<text x="154.4" y="537.3" font-family="'Liberation Sans', Arial, Helvetica, sans-serif" font-size="11.5" text-anchor="start" font-weight="normal" fill="#000" >R<tspan font-size="6.8" dy="-4.2">2</tspan><tspan dy="4.2">=0.7937</tspan></text>
<rect x="192.45" y="557.95" width="8.1" height="8.1" fill="#000" stroke="#e8e8e8" stroke-width="0.7"/>
<rect x="179.55" y="579.75" width="8.1" height="8.1" fill="#000" stroke="#e8e8e8" stroke-width="0.7"/>
<rect x="179.15" y="584.85" width="8.1" height="8.1" fill="#000" stroke="#e8e8e8" stroke-width="0.7"/>
<rect x="274.05" y="532.85" width="8.1" height="8.1" fill="#000" stroke="#e8e8e8" stroke-width="0.7"/>
<rect x="152.25" y="559.15" width="8.1" height="8.1" fill="#000" stroke="#e8e8e8" stroke-width="0.7"/>
<rect x="189.05" y="556.55" width="8.1" height="8.1" fill="#000" stroke="#e8e8e8" stroke-width="0.7"/>
<rect x="213.15" y="557.15" width="8.1" height="8.1" fill="#000" stroke="#e8e8e8" stroke-width="0.7"/>
<rect x="213.55" y="565.45" width="8.1" height="8.1" fill="#000" stroke="#e8e8e8" stroke-width="0.7"/>
<rect x="245.45" y="558.15" width="8.1" height="8.1" fill="#000" stroke="#e8e8e8" stroke-width="0.7"/>
<rect x="201.35" y="573.95" width="8.1" height="8.1" fill="#000" stroke="#e8e8e8" stroke-width="0.7"/>
<rect x="155.85" y="584.85" width="8.1" height="8.1" fill="#000" stroke="#e8e8e8" stroke-width="0.7"/>
<rect x="181.95" y="582.35" width="8.1" height="8.1" fill="#000" stroke="#e8e8e8" stroke-width="0.7"/>
<rect x="189.05" y="581.35" width="8.1" height="8.1" fill="#000" stroke="#e8e8e8" stroke-width="0.7"/>
<rect x="195.95" y="581.75" width="8.1" height="8.1" fill="#000" stroke="#e8e8e8" stroke-width="0.7"/>
<rect x="203.85" y="580.95" width="8.1" height="8.1" fill="#000" stroke="#e8e8e8" stroke-width="0.7"/>
<rect x="210.25" y="579.35" width="8.1" height="8.1" fill="#000" stroke="#e8e8e8" stroke-width="0.7"/>
<rect x="210.65" y="582.35" width="8.1" height="8.1" fill="#000" stroke="#e8e8e8" stroke-width="0.7"/>
<rect x="222.65" y="579.75" width="8.1" height="8.1" fill="#000" stroke="#e8e8e8" stroke-width="0.7"/>
<rect x="233.95" y="580.35" width="8.1" height="8.1" fill="#000" stroke="#e8e8e8" stroke-width="0.7"/>
<rect x="246.45" y="578.75" width="8.1" height="8.1" fill="#000" stroke="#e8e8e8" stroke-width="0.7"/>
<rect x="179.15" y="597.15" width="8.1" height="8.1" fill="#000" stroke="#e8e8e8" stroke-width="0.7"/>
<rect x="211.75" y="597.15" width="8.1" height="8.1" fill="#000" stroke="#e8e8e8" stroke-width="0.7"/>
<rect x="201.95" y="604.65" width="8.1" height="8.1" fill="#000" stroke="#e8e8e8" stroke-width="0.7"/>
<rect x="212.15" y="607.45" width="8.1" height="8.1" fill="#000" stroke="#e8e8e8" stroke-width="0.7"/>
<rect x="243.85" y="604.65" width="8.1" height="8.1" fill="#000" stroke="#e8e8e8" stroke-width="0.7"/>
<polygon points="150.00,630.35 154.45,634.80 150.00,639.25 145.55,634.80" fill="#fff" stroke="#111" stroke-width="1.05"/>
<polygon points="156.20,627.95 160.65,632.40 156.20,636.85 151.75,632.40" fill="#fff" stroke="#111" stroke-width="1.05"/>
<polygon points="122.00,638.85 126.45,643.30 122.00,647.75 117.55,643.30" fill="#fff" stroke="#111" stroke-width="1.05"/>
<polygon points="132.90,640.85 137.35,645.30 132.90,649.75 128.45,645.30" fill="#fff" stroke="#111" stroke-width="1.05"/>
<polygon points="128.30,645.05 132.75,649.50 128.30,653.95 123.85,649.50" fill="#fff" stroke="#111" stroke-width="1.05"/>
<polygon points="120.90,648.15 125.35,652.60 120.90,657.05 116.45,652.60" fill="#fff" stroke="#111" stroke-width="1.05"/>
<polygon points="117.80,650.95 122.25,655.40 117.80,659.85 113.35,655.40" fill="#fff" stroke="#111" stroke-width="1.05"/>
<polygon points="117.40,652.85 121.85,657.30 117.40,661.75 112.95,657.30" fill="#fff" stroke="#111" stroke-width="1.05"/>
<polygon points="124.50,646.05 128.95,650.50 124.50,654.95 120.05,650.50" fill="#fff" stroke="#111" stroke-width="1.05"/>
<polygon points="314.60,580.20 319.00,584.60 314.60,589.00 310.20,584.60" fill="#fff" stroke="#111" stroke-width="1.1"/>
<text x="323.20000000000005" y="588.7" font-family="'Liberation Sans', Arial, Helvetica, sans-serif" font-size="11.5" text-anchor="start" font-weight="normal" fill="#000" >T</text>
<rect x="310.50" y="608.00" width="8.0" height="8.0" fill="#000" stroke="#e8e8e8" stroke-width="0.7"/>
<text x="322.1" y="616.0" font-family="'Liberation Sans', Arial, Helvetica, sans-serif" font-size="11.5" text-anchor="start" font-weight="normal" fill="#000" >N</text>
<line x1="425.0" y1="574.0" x2="533.5" y2="655.0" stroke="#333" stroke-width="0.9"/>
<line x1="424.3" y1="521.6" x2="424.3" y2="655.6" stroke="#000" stroke-width="2"/>
<line x1="423.3" y1="654.6" x2="609.8" y2="654.6" stroke="#000" stroke-width="2"/>
<line x1="419.3" y1="654.6" x2="424.3" y2="654.6" stroke="#000" stroke-width="2"/>
<text x="415.0" y="659.8" font-family="'Liberation Sans', Arial, Helvetica, sans-serif" font-size="11.2" text-anchor="end" font-weight="normal" fill="#000" >0</text>
<line x1="419.3" y1="610.6" x2="424.3" y2="610.6" stroke="#000" stroke-width="2"/>
<text x="415.0" y="615.8" font-family="'Liberation Sans', Arial, Helvetica, sans-serif" font-size="11.2" text-anchor="end" font-weight="normal" fill="#000" >2</text>
<line x1="419.3" y1="566.6" x2="424.3" y2="566.6" stroke="#000" stroke-width="2"/>
<text x="415.0" y="571.8" font-family="'Liberation Sans', Arial, Helvetica, sans-serif" font-size="11.2" text-anchor="end" font-weight="normal" fill="#000" >4</text>
<line x1="419.3" y1="522.6" x2="424.3" y2="522.6" stroke="#000" stroke-width="2"/>
<text x="415.0" y="527.8" font-family="'Liberation Sans', Arial, Helvetica, sans-serif" font-size="11.2" text-anchor="end" font-weight="normal" fill="#000" >6</text>
<line x1="424.3" y1="654.6" x2="424.3" y2="659.1" stroke="#000" stroke-width="2"/>
<text x="424.3" y="672.4" font-family="'Liberation Sans', Arial, Helvetica, sans-serif" font-size="11.2" text-anchor="middle" font-weight="normal" fill="#000" >0</text>
<line x1="485.8" y1="654.6" x2="485.8" y2="659.1" stroke="#000" stroke-width="2"/>
<text x="485.8" y="672.4" font-family="'Liberation Sans', Arial, Helvetica, sans-serif" font-size="11.2" text-anchor="middle" font-weight="normal" fill="#000" >2</text>
<line x1="547.3" y1="654.6" x2="547.3" y2="659.1" stroke="#000" stroke-width="2"/>
<text x="547.3" y="672.4" font-family="'Liberation Sans', Arial, Helvetica, sans-serif" font-size="11.2" text-anchor="middle" font-weight="normal" fill="#000" >4</text>
<line x1="608.8" y1="654.6" x2="608.8" y2="659.1" stroke="#000" stroke-width="2"/>
<text x="608.8" y="672.4" font-family="'Liberation Sans', Arial, Helvetica, sans-serif" font-size="11.2" text-anchor="middle" font-weight="normal" fill="#000" >6</text>
<text transform="translate(398.0,591.5) rotate(-90)" font-family="'Liberation Sans', Arial, Helvetica, sans-serif" font-size="11.5" text-anchor="middle">Fas/&#946;-actin</text>
<text x="514.6" y="686.6" font-family="'Liberation Sans', Arial, Helvetica, sans-serif" font-size="11.5" text-anchor="middle" font-weight="normal" fill="#000" >PARP1/&#946;-actin</text>
<text x="457.8" y="538.0" font-family="'Liberation Sans', Arial, Helvetica, sans-serif" font-size="11.5" text-anchor="start" font-weight="normal" fill="#000" >R<tspan font-size="6.8" dy="-4.2">2</tspan><tspan dy="4.2">=0.7355</tspan></text>
<rect x="486.55" y="647.15" width="8.1" height="8.1" fill="#000" stroke="#e8e8e8" stroke-width="0.7"/>
<rect x="519.15" y="647.95" width="8.1" height="8.1" fill="#000" stroke="#e8e8e8" stroke-width="0.7"/>
<rect x="550.95" y="646.25" width="8.1" height="8.1" fill="#000" stroke="#e8e8e8" stroke-width="0.7"/>
<rect x="501.95" y="629.35" width="8.1" height="8.1" fill="#000" stroke="#e8e8e8" stroke-width="0.7"/>
<rect x="529.65" y="630.75" width="8.1" height="8.1" fill="#000" stroke="#e8e8e8" stroke-width="0.7"/>
<rect x="519.15" y="641.25" width="8.1" height="8.1" fill="#000" stroke="#e8e8e8" stroke-width="0.7"/>
<rect x="458.45" y="647.15" width="8.1" height="8.1" fill="#000" stroke="#e8e8e8" stroke-width="0.7"/>
<rect x="463.25" y="647.95" width="8.1" height="8.1" fill="#000" stroke="#e8e8e8" stroke-width="0.7"/>
<rect x="488.55" y="647.15" width="8.1" height="8.1" fill="#000" stroke="#e8e8e8" stroke-width="0.7"/>
<rect x="496.05" y="647.95" width="8.1" height="8.1" fill="#000" stroke="#e8e8e8" stroke-width="0.7"/>
<rect x="508.25" y="645.65" width="8.1" height="8.1" fill="#000" stroke="#e8e8e8" stroke-width="0.7"/>
<rect x="517.15" y="645.65" width="8.1" height="8.1" fill="#000" stroke="#e8e8e8" stroke-width="0.7"/>
<rect x="540.95" y="645.65" width="8.1" height="8.1" fill="#000" stroke="#e8e8e8" stroke-width="0.7"/>
<rect x="553.35" y="646.25" width="8.1" height="8.1" fill="#000" stroke="#e8e8e8" stroke-width="0.7"/>
<rect x="581.45" y="649.55" width="8.1" height="8.1" fill="#000" stroke="#e8e8e8" stroke-width="0.7"/>
<polygon points="425.90,531.95 430.35,536.40 425.90,540.85 421.45,536.40" fill="#fff" stroke="#111" stroke-width="1.05"/>
<polygon points="425.50,532.75 429.95,537.20 425.50,541.65 421.05,537.20" fill="#fff" stroke="#111" stroke-width="1.05"/>
<polygon points="424.90,542.45 429.35,546.90 424.90,551.35 420.45,546.90" fill="#fff" stroke="#111" stroke-width="1.05"/>
<polygon points="424.90,548.25 429.35,552.70 424.90,557.15 420.45,552.70" fill="#fff" stroke="#111" stroke-width="1.05"/>
<polygon points="431.40,555.15 435.85,559.60 431.40,564.05 426.95,559.60" fill="#fff" stroke="#111" stroke-width="1.05"/>
<polygon points="435.20,557.35 439.65,561.80 435.20,566.25 430.75,561.80" fill="#fff" stroke="#111" stroke-width="1.05"/>
<polygon points="424.90,557.95 429.35,562.40 424.90,566.85 420.45,562.40" fill="#fff" stroke="#111" stroke-width="1.05"/>
<polygon points="424.30,563.15 428.75,567.60 424.30,572.05 419.85,567.60" fill="#fff" stroke="#111" stroke-width="1.05"/>
<polygon points="427.50,565.75 431.95,570.20 427.50,574.65 423.05,570.20" fill="#fff" stroke="#111" stroke-width="1.05"/>
<polygon points="434.60,567.05 439.05,571.50 434.60,575.95 430.15,571.50" fill="#fff" stroke="#111" stroke-width="1.05"/>
<polygon points="423.60,569.85 428.05,574.30 423.60,578.75 419.15,574.30" fill="#fff" stroke="#111" stroke-width="1.05"/>
<polygon points="424.30,576.05 428.75,580.50 424.30,584.95 419.85,580.50" fill="#fff" stroke="#111" stroke-width="1.05"/>
<polygon points="424.30,580.15 428.75,584.60 424.30,589.05 419.85,584.60" fill="#fff" stroke="#111" stroke-width="1.05"/>
<polygon points="438.50,580.55 442.95,585.00 438.50,589.45 434.05,585.00" fill="#fff" stroke="#111" stroke-width="1.05"/>
<polygon points="456.50,573.15 460.95,577.60 456.50,582.05 452.05,577.60" fill="#fff" stroke="#111" stroke-width="1.05"/>
<polygon points="462.30,583.55 466.75,588.00 462.30,592.45 457.85,588.00" fill="#fff" stroke="#111" stroke-width="1.05"/>
<polygon points="427.50,598.65 431.95,603.10 427.50,607.55 423.05,603.10" fill="#fff" stroke="#111" stroke-width="1.05"/>
<polygon points="423.60,602.55 428.05,607.00 423.60,611.45 419.15,607.00" fill="#fff" stroke="#111" stroke-width="1.05"/>
<polygon points="622.60,579.50 627.00,583.90 622.60,588.30 618.20,583.90" fill="#fff" stroke="#111" stroke-width="1.1"/>
<text x="631.2" y="588.0" font-family="'Liberation Sans', Arial, Helvetica, sans-serif" font-size="11.5" text-anchor="start" font-weight="normal" fill="#000" >T</text>
<rect x="618.90" y="606.30" width="8.0" height="8.0" fill="#000" stroke="#e8e8e8" stroke-width="0.7"/>
<text x="630.5" y="614.3" font-family="'Liberation Sans', Arial, Helvetica, sans-serif" font-size="11.5" text-anchor="start" font-weight="normal" fill="#000" >N</text>
</svg></body></html>
